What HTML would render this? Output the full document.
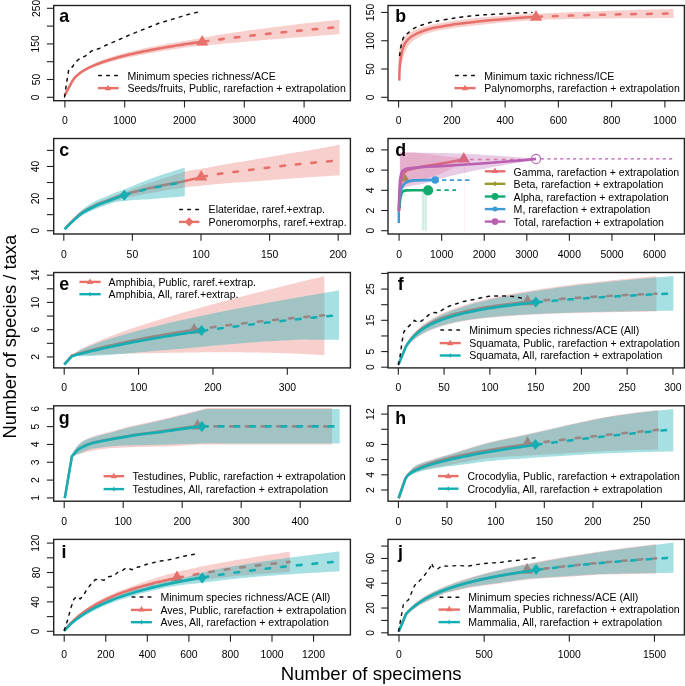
<!DOCTYPE html>
<html><head><meta charset="utf-8"><style>
html,body{margin:0;padding:0;background:#fff;}
svg{display:block;font-family:"Liberation Sans", sans-serif;}
svg{will-change:transform;}
</style></head><body>
<svg width="685" height="686" viewBox="0 0 685 686">
<rect width="685" height="686" fill="#fff"/>
<path d="M64.6,95.7 L72.2,80.7 L74.19,77.71 L76.19,75.4 L78.18,73.47 L80.18,71.8 L82.17,70.33 L84.16,68.99 L86.16,67.75 L88.15,66.61 L90.15,65.53 L92.14,64.53 L94.13,63.59 L96.13,62.69 L98.12,61.83 L100.12,61 L102.11,60.23 L104.1,59.48 L106.1,58.76 L108.09,58.06 L110.09,57.39 L112.08,56.75 L114.07,56.14 L116.07,55.53 L118.06,54.95 L120.06,54.38 L122.05,53.82 L124.04,53.28 L126.04,52.74 L128.03,52.21 L130.03,51.69 L132.02,51.19 L134.01,50.69 L136.01,50.2 L138,49.72 L140,49.27 L141.99,48.82 L143.99,48.38 L145.98,47.95 L147.97,47.52 L149.97,47.1 L151.96,46.7 L153.96,46.31 L155.95,45.92 L157.94,45.54 L159.94,45.17 L161.93,44.8 L163.93,44.44 L165.92,44.08 L167.91,43.72 L169.91,43.37 L171.9,43.02 L173.9,42.68 L175.89,42.34 L177.88,41.99 L179.88,41.65 L181.87,41.31 L183.87,40.97 L185.86,40.64 L187.85,40.31 L189.85,39.98 L191.84,39.66 L193.84,39.34 L195.83,39 L197.82,38.64 L199.82,38.27 L201.81,37.91 L203.81,37.54 L205.8,37.15 L207.79,36.77 L209.79,36.4 L211.78,36.02 L213.78,35.65 L215.77,35.3 L217.76,34.99 L219.76,34.68 L221.75,34.37 L223.75,34.06 L225.74,33.76 L227.73,33.46 L229.73,33.15 L231.72,32.86 L233.72,32.56 L235.71,32.27 L237.7,31.97 L239.7,31.68 L241.69,31.4 L243.69,31.13 L245.68,30.85 L247.67,30.58 L249.67,30.31 L251.66,30.04 L253.66,29.77 L255.65,29.51 L257.64,29.24 L259.64,28.98 L261.63,28.72 L263.63,28.46 L265.62,28.2 L267.61,27.94 L269.61,27.69 L271.6,27.43 L273.6,27.18 L275.59,26.93 L277.59,26.68 L279.58,26.43 L281.57,26.19 L283.57,25.95 L285.56,25.71 L287.56,25.47 L289.55,25.23 L291.54,24.99 L293.54,24.76 L295.53,24.53 L297.53,24.29 L299.52,24.06 L301.51,23.83 L303.51,23.6 L305.5,23.37 L307.5,23.14 L309.49,22.92 L311.48,22.7 L313.48,22.49 L315.47,22.28 L317.47,22.07 L319.46,21.86 L321.45,21.65 L323.45,21.45 L325.44,21.24 L327.44,21.04 L329.43,20.83 L331.42,20.63 L333.42,20.43 L335.41,20.23 L337.41,20.03 L339.4,19.83 L339.4,34.23 L337.41,34.37 L335.41,34.52 L333.42,34.66 L331.42,34.81 L329.43,34.96 L327.44,35.11 L325.44,35.26 L323.45,35.41 L321.45,35.57 L319.46,35.72 L317.47,35.87 L315.47,36.03 L313.48,36.19 L311.48,36.34 L309.49,36.5 L307.5,36.64 L305.5,36.79 L303.51,36.94 L301.51,37.09 L299.52,37.24 L297.53,37.39 L295.53,37.55 L293.54,37.7 L291.54,37.86 L289.55,38.01 L287.56,38.17 L285.56,38.33 L283.57,38.49 L281.57,38.65 L279.58,38.81 L277.59,38.97 L275.59,39.13 L273.6,39.29 L271.6,39.46 L269.61,39.62 L267.61,39.79 L265.62,39.95 L263.63,40.12 L261.63,40.29 L259.64,40.46 L257.64,40.64 L255.65,40.81 L253.66,40.99 L251.66,41.17 L249.67,41.35 L247.67,41.53 L245.68,41.71 L243.69,41.89 L241.69,42.08 L239.7,42.27 L237.7,42.45 L235.71,42.63 L233.72,42.81 L231.72,42.99 L229.73,43.18 L227.73,43.37 L225.74,43.56 L223.75,43.75 L221.75,43.95 L219.76,44.14 L217.76,44.34 L215.77,44.54 L213.78,44.72 L211.78,44.87 L209.79,45.02 L207.79,45.18 L205.8,45.34 L203.81,45.5 L201.81,45.67 L199.82,45.87 L197.82,46.07 L195.83,46.27 L193.84,46.51 L191.84,46.77 L189.85,47.03 L187.85,47.29 L185.86,47.56 L183.87,47.84 L181.87,48.11 L179.88,48.39 L177.88,48.68 L175.89,48.97 L173.9,49.26 L171.9,49.57 L169.91,49.89 L167.91,50.21 L165.92,50.53 L163.93,50.86 L161.93,51.19 L159.94,51.53 L157.94,51.87 L155.95,52.22 L153.96,52.57 L151.96,52.93 L149.97,53.3 L147.97,53.65 L145.98,54.02 L143.99,54.39 L141.99,54.76 L140,55.15 L138,55.54 L136.01,55.93 L134.01,56.32 L132.02,56.72 L130.03,57.14 L128.03,57.56 L126.04,57.99 L124.04,58.44 L122.05,58.9 L120.06,59.38 L118.06,59.87 L116.07,60.38 L114.07,60.9 L112.08,61.44 L110.09,61.99 L108.09,62.55 L106.1,63.13 L104.1,63.73 L102.11,64.36 L100.12,65.01 L98.12,65.68 L96.13,66.38 L94.13,67.12 L92.14,67.91 L90.15,68.74 L88.15,69.62 L86.16,70.57 L84.16,71.6 L82.17,72.74 L80.18,74.02 L78.18,75.44 L76.19,77.11 L74.19,79.16 L72.2,81.9 L64.6,95.7 Z" fill="rgba(232,112,106,0.33)" stroke="none"/>
<path d="M64.6,95.7 L72.2,81.3 L74.2,78.43 L76.2,76.24 L78.2,74.44 L80.21,72.89 L82.21,71.51 L84.21,70.27 L86.21,69.13 L88.21,68.08 L90.21,67.1 L92.22,66.19 L94.22,65.32 L96.22,64.5 L98.22,63.72 L100.22,62.97 L102.22,62.25 L104.22,61.56 L106.23,60.9 L108.23,60.27 L110.23,59.65 L112.23,59.05 L114.23,58.47 L116.23,57.91 L118.24,57.36 L120.24,56.83 L122.24,56.31 L124.24,55.81 L126.24,55.32 L128.24,54.84 L130.24,54.36 L132.25,53.9 L134.25,53.45 L136.25,53.01 L138.25,52.58 L140.25,52.15 L142.25,51.74 L144.26,51.33 L146.26,50.93 L148.26,50.53 L150.26,50.14 L152.26,49.76 L154.26,49.38 L156.26,49.01 L158.27,48.65 L160.27,48.29 L162.27,47.94 L164.27,47.59 L166.27,47.24 L168.27,46.9 L170.28,46.57 L172.28,46.24 L174.28,45.91 L176.28,45.59 L178.28,45.27 L180.28,44.96 L182.28,44.65 L184.29,44.34 L186.29,44.04 L188.29,43.74 L190.29,43.44 L192.29,43.15 L194.29,42.86 L196.3,42.57 L198.3,42.29 L200.3,42 L202.3,41.73" fill="none" stroke="#E8706A" stroke-width="2.6" stroke-linecap="butt" stroke-linejoin="round"/>
<path d="M202.3,41.73 L204.29,41.45 L206.27,41.18 L208.26,40.91 L210.25,40.65 L212.23,40.39 L214.22,40.12 L216.21,39.87 L218.2,39.61 L220.18,39.36 L222.17,39.1 L224.16,38.86 L226.14,38.61 L228.13,38.36 L230.12,38.12 L232.1,37.88 L234.09,37.64 L236.08,37.4 L238.07,37.17 L240.05,36.93 L242.04,36.7 L244.03,36.47 L246.01,36.24 L248,36.02 L249.99,35.79 L251.97,35.57 L253.96,35.35 L255.95,35.13 L257.93,34.91 L259.92,34.69 L261.91,34.48 L263.9,34.26 L265.88,34.05 L267.87,33.84 L269.86,33.63 L271.84,33.42 L273.83,33.21 L275.82,33.01 L277.8,32.8 L279.79,32.6 L281.78,32.4 L283.77,32.2 L285.75,32 L287.74,31.8 L289.73,31.6 L291.71,31.41 L293.7,31.21 L295.69,31.02 L297.67,30.83 L299.66,30.64 L301.65,30.45 L303.63,30.26 L305.62,30.07 L307.61,29.88 L309.6,29.7 L311.58,29.51 L313.57,29.33 L315.56,29.15 L317.54,28.96 L319.53,28.78 L321.52,28.6 L323.5,28.43 L325.49,28.25 L327.48,28.07 L329.47,27.89 L331.45,27.72 L333.44,27.54 L335.43,27.37 L337.41,27.2 L339.4,27.03" fill="none" stroke="#E8706A" stroke-width="2.6" stroke-dasharray="4.6 11.1" stroke-dashoffset="-1.3" stroke-linecap="round" stroke-linejoin="round"/>
<polygon points="202.2,34.96 208.3,45.53 196.1,45.53" fill="#E8706A"/>
<line x1="98.7" y1="75.6" x2="117.6" y2="75.6" stroke="#111" stroke-width="1.5" stroke-dasharray="2.7 5.3" stroke-linecap="round"/>
<line x1="97.9" y1="88.1" x2="118.6" y2="88.1" stroke="#E8706A" stroke-width="2.4"/>
<polygon points="108.1,84.67 111.3,90.22 104.9,90.22" fill="#E8706A"/>
<text x="127.4" y="80.1" font-size="10.55" text-anchor="start" font-weight="normal" fill="#000">Minimum species richness/ACE</text>
<text x="127.4" y="92.1" font-size="10.55" text-anchor="start" font-weight="normal" fill="#000">Seeds/fruits, Public, rarefaction + extrapolation</text>
<path d="M64.6,96.9 L65.9,87.3 L67.3,78.5 L68.1,74.2 L68.6,70.2 L69.9,68 L71.6,67.6 L72.9,66.3 L74.3,63.6 L76,61.9 L78.2,59.7 L80.8,58.4 L83,57.1 L85.6,55.8 L88.3,54 L90.9,51.4 L94.4,49.6 L98.8,48.8 L101.4,47.4 L105.8,45.3 L111,43.1 L116.3,40.9 L129.6,34.9 L144.2,29.1 L158.8,23.2 L173.4,18.9 L188,14.5 L201.9,11.1" fill="none" stroke="#111" stroke-width="1.5" stroke-dasharray="2.7 5.3" stroke-linecap="round" stroke-linejoin="round"/>
<line x1="64.9" y1="100.7" x2="64.9" y2="107.5" stroke="#222" stroke-width="1.1"/>
<text x="64.9" y="124.2" font-size="10.4" text-anchor="middle" font-weight="normal" fill="#000">0</text>
<line x1="124.7" y1="100.7" x2="124.7" y2="107.5" stroke="#222" stroke-width="1.1"/>
<text x="124.7" y="124.2" font-size="10.4" text-anchor="middle" font-weight="normal" fill="#000">1000</text>
<line x1="184.5" y1="100.7" x2="184.5" y2="107.5" stroke="#222" stroke-width="1.1"/>
<text x="184.5" y="124.2" font-size="10.4" text-anchor="middle" font-weight="normal" fill="#000">2000</text>
<line x1="244.3" y1="100.7" x2="244.3" y2="107.5" stroke="#222" stroke-width="1.1"/>
<text x="244.3" y="124.2" font-size="10.4" text-anchor="middle" font-weight="normal" fill="#000">3000</text>
<line x1="304.1" y1="100.7" x2="304.1" y2="107.5" stroke="#222" stroke-width="1.1"/>
<text x="304.1" y="124.2" font-size="10.4" text-anchor="middle" font-weight="normal" fill="#000">4000</text>
<line x1="46.9" y1="97.3" x2="53.7" y2="97.3" stroke="#222" stroke-width="1.1"/>
<text x="39.5" y="97.3" font-size="10.4" text-anchor="middle" font-weight="normal" fill="#000" transform="rotate(-90 39.5 97.3)">0</text>
<line x1="46.9" y1="79.5" x2="53.7" y2="79.5" stroke="#222" stroke-width="1.1"/>
<text x="39.5" y="79.5" font-size="10.4" text-anchor="middle" font-weight="normal" fill="#000" transform="rotate(-90 39.5 79.5)">50</text>
<line x1="46.9" y1="61.7" x2="53.7" y2="61.7" stroke="#222" stroke-width="1.1"/>
<line x1="46.9" y1="43.9" x2="53.7" y2="43.9" stroke="#222" stroke-width="1.1"/>
<text x="39.5" y="43.9" font-size="10.4" text-anchor="middle" font-weight="normal" fill="#000" transform="rotate(-90 39.5 43.9)">150</text>
<line x1="46.9" y1="26.1" x2="53.7" y2="26.1" stroke="#222" stroke-width="1.1"/>
<line x1="46.9" y1="8.3" x2="53.7" y2="8.3" stroke="#222" stroke-width="1.1"/>
<text x="39.5" y="8.3" font-size="10.4" text-anchor="middle" font-weight="normal" fill="#000" transform="rotate(-90 39.5 8.3)">250</text>
<rect x="53.7" y="5.5" width="296.7" height="95.2" fill="none" stroke="#222" stroke-width="1.4"/>
<text x="64.1" y="21.9" font-size="17.8" text-anchor="middle" font-weight="bold" fill="#000">a</text>
<path d="M399.25,80.6 L399.2,79.6 L399.14,78.59 L399.09,77.59 L399.03,76.59 L398.98,75.58 L398.93,74.58 L398.87,73.57 L398.82,72.56 L398.74,71.55 L398.64,70.54 L398.59,69.53 L398.57,68.53 L398.55,67.52 L398.53,66.5 L398.52,65.48 L398.49,64.45 L398.45,63.42 L398.41,62.39 L398.37,61.36 L398.34,60.33 L398.35,59.31 L398.4,58.29 L398.46,57.27 L398.51,56.25 L398.57,55.23 L398.63,54.17 L398.7,53.11 L398.78,52.06 L398.88,50.99 L399.07,49.93 L399.28,48.84 L399.48,47.75 L399.73,46.68 L400.04,45.62 L400.35,44.56 L400.68,43.48 L401.05,42.32 L401.45,41.17 L402.1,40.15 L402.85,39.17 L403.65,38.14 L404.37,37.24 L405.11,36.4 L405.92,35.62 L406.83,34.75 L407.75,33.94 L408.67,33.21 L409.72,32.66 L410.77,32.11 L411.76,31.61 L412.65,31.15 L413.57,30.69 L414.56,30.19 L415.54,29.69 L416.55,29.27 L417.59,28.9 L418.63,28.53 L419.59,28.19 L420.55,27.86 L421.55,27.51 L422.55,27.16 L423.56,26.85 L424.57,26.56 L425.59,26.26 L426.56,25.98 L427.55,25.69 L428.57,25.39 L429.59,25.1 L430.63,24.86 L431.68,24.66 L432.72,24.46 L433.72,24.27 L434.71,24.08 L435.71,23.89 L436.71,23.71 L437.71,23.54 L438.71,23.37 L439.71,23.2 L440.7,23.04 L441.7,22.87 L442.7,22.7 L443.69,22.53 L444.69,22.36 L445.68,22.19 L446.67,22.02 L447.65,21.85 L448.64,21.68 L449.63,21.51 L450.62,21.34 L451.6,21.17 L452.59,21 L453.59,20.83 L454.61,20.66 L455.62,20.48 L456.65,20.34 L457.67,20.21 L458.69,20.09 L459.69,19.96 L460.68,19.84 L461.68,19.71 L462.67,19.59 L463.66,19.46 L464.66,19.34 L465.65,19.22 L466.65,19.09 L467.64,18.97 L468.65,18.84 L469.65,18.72 L470.65,18.62 L471.66,18.52 L472.66,18.43 L473.65,18.33 L474.65,18.23 L475.65,18.14 L476.65,18.04 L477.64,17.94 L478.64,17.85 L479.64,17.75 L480.63,17.66 L481.63,17.56 L482.63,17.46 L483.64,17.36 L484.65,17.27 L485.65,17.18 L486.66,17.1 L487.66,17.02 L488.66,16.93 L489.66,16.85 L490.66,16.77 L491.66,16.68 L492.65,16.6 L493.65,16.52 L494.65,16.43 L495.65,16.35 L496.65,16.27 L497.65,16.18 L498.66,16.1 L499.67,16.02 L500.68,15.94 L501.68,15.87 L502.69,15.8 L503.69,15.73 L504.69,15.65 L505.69,15.58 L506.69,15.51 L507.69,15.44 L508.69,15.37 L509.68,15.3 L510.68,15.22 L511.68,15.15 L512.68,15.08 L513.68,15.01 L514.69,14.94 L515.69,14.86 L516.7,14.8 L517.7,14.74 L518.71,14.68 L519.71,14.62 L520.71,14.57 L521.71,14.51 L522.71,14.45 L523.71,14.4 L524.71,14.34 L525.71,14.28 L526.71,14.22 L527.71,14.17 L528.71,14.11 L529.71,14.05 L530.71,14 L531.71,13.94 L532.71,13.88 L533.73,13.82 L534.74,13.77 L535.76,13.71 L536.78,13.66 L537.8,13.62 L538.81,13.57 L539.81,13.53 L540.82,13.48 L541.82,13.44 L542.82,13.4 L543.82,13.35 L544.82,13.31 L545.82,13.26 L546.82,13.22 L547.82,13.18 L548.82,13.13 L549.82,13.09 L550.82,13.04 L551.82,13 L552.82,12.95 L553.82,12.91 L554.82,12.87 L555.83,12.82 L556.83,12.78 L557.83,12.73 L558.83,12.69 L559.83,12.65 L560.83,12.6 L561.83,12.56 L562.83,12.51 L563.83,12.47 L564.83,12.42 L565.83,12.38 L566.83,12.34 L567.84,12.29 L568.85,12.25 L569.85,12.2 L570.86,12.17 L571.87,12.13 L572.87,12.1 L573.87,12.06 L574.88,12.03 L575.88,11.99 L576.88,11.96 L577.88,11.92 L578.88,11.89 L579.88,11.85 L580.88,11.82 L581.88,11.78 L582.88,11.75 L583.88,11.71 L584.89,11.68 L585.89,11.64 L586.89,11.61 L587.89,11.57 L588.89,11.54 L589.89,11.5 L590.89,11.47 L591.89,11.43 L592.89,11.4 L593.9,11.36 L594.9,11.33 L595.9,11.29 L596.9,11.26 L597.9,11.22 L598.9,11.19 L599.9,11.15 L600.9,11.12 L601.9,11.08 L602.9,11.05 L603.91,11.01 L604.91,10.98 L605.91,10.94 L606.91,10.91 L607.91,10.87 L608.92,10.84 L609.92,10.8 L610.93,10.77 L611.93,10.73 L612.93,10.7 L613.94,10.67 L614.94,10.63 L615.94,10.6 L616.94,10.57 L617.94,10.53 L618.94,10.5 L619.94,10.47 L620.94,10.43 L621.94,10.4 L622.95,10.37 L623.95,10.33 L624.95,10.3 L625.95,10.27 L626.95,10.23 L627.95,10.2 L628.95,10.17 L629.95,10.13 L630.96,10.1 L631.96,10.07 L632.96,10.03 L633.96,10 L634.96,9.97 L635.96,9.93 L636.96,9.9 L637.97,9.87 L638.97,9.83 L639.98,9.8 L640.98,9.78 L641.99,9.75 L642.99,9.73 L643.99,9.7 L644.99,9.68 L646,9.66 L647,9.63 L648,9.61 L649,9.58 L650,9.56 L651,9.54 L652,9.51 L653,9.49 L654.01,9.47 L655.01,9.44 L656.01,9.42 L657.01,9.39 L658.01,9.37 L659.01,9.35 L660.01,9.32 L661.02,9.3 L662.02,9.27 L663.02,9.25 L664.02,9.23 L665.02,9.2 L666.02,9.18 L667.02,9.16 L668.03,9.13 L669.03,9.11 L670.03,9.08 L671.03,9.06 L672.03,9.04 L673.03,9.01 L673.53,9 L673.67,18 L673.17,18 L672.16,18.01 L671.16,18.01 L670.16,18.02 L669.16,18.03 L668.16,18.03 L667.16,18.04 L666.15,18.04 L665.15,18.05 L664.15,18.06 L663.15,18.06 L662.15,18.07 L661.15,18.07 L660.14,18.08 L659.14,18.09 L658.14,18.09 L657.14,18.1 L656.14,18.1 L655.14,18.11 L654.14,18.12 L653.13,18.12 L652.13,18.13 L651.13,18.13 L650.13,18.14 L649.13,18.15 L648.13,18.15 L647.12,18.16 L646.12,18.16 L645.12,18.17 L644.12,18.18 L643.12,18.18 L642.12,18.19 L641.12,18.19 L640.12,18.2 L639.12,18.21 L638.13,18.21 L637.13,18.22 L636.13,18.23 L635.13,18.23 L634.12,18.24 L633.12,18.25 L632.12,18.25 L631.12,18.26 L630.12,18.27 L629.12,18.27 L628.11,18.28 L627.11,18.29 L626.11,18.29 L625.11,18.3 L624.11,18.31 L623.11,18.31 L622.1,18.32 L621.1,18.33 L620.1,18.33 L619.1,18.34 L618.1,18.35 L617.09,18.35 L616.09,18.36 L615.09,18.37 L614.09,18.37 L613.09,18.38 L612.09,18.39 L611.09,18.39 L610.09,18.4 L609.09,18.41 L608.1,18.43 L607.1,18.44 L606.1,18.46 L605.09,18.47 L604.09,18.49 L603.09,18.5 L602.09,18.52 L601.09,18.53 L600.09,18.55 L599.09,18.56 L598.08,18.58 L597.08,18.59 L596.08,18.61 L595.08,18.62 L594.08,18.64 L593.08,18.65 L592.07,18.67 L591.07,18.68 L590.07,18.7 L589.07,18.71 L588.07,18.73 L587.07,18.74 L586.06,18.76 L585.06,18.77 L584.06,18.79 L583.06,18.8 L582.06,18.82 L581.06,18.83 L580.06,18.85 L579.05,18.86 L578.05,18.88 L577.05,18.89 L576.05,18.91 L575.05,18.92 L574.05,18.94 L573.04,18.95 L572.05,18.97 L571.05,18.98 L570.06,19 L569.06,19.03 L568.07,19.05 L567.07,19.08 L566.07,19.11 L565.07,19.13 L564.07,19.16 L563.07,19.18 L562.06,19.21 L561.06,19.24 L560.06,19.26 L559.06,19.29 L558.06,19.32 L557.06,19.34 L556.06,19.37 L555.06,19.4 L554.05,19.42 L553.05,19.45 L552.05,19.48 L551.05,19.5 L550.05,19.53 L549.05,19.56 L548.05,19.58 L547.05,19.61 L546.04,19.64 L545.04,19.66 L544.04,19.69 L543.04,19.71 L542.04,19.74 L541.04,19.77 L540.04,19.79 L539.04,19.82 L538.05,19.85 L537.07,19.87 L536.08,19.9 L535.1,19.98 L534.12,20.06 L533.13,20.13 L532.14,20.21 L531.14,20.29 L530.14,20.36 L529.14,20.44 L528.14,20.52 L527.14,20.6 L526.14,20.68 L525.14,20.75 L524.15,20.83 L523.15,20.91 L522.15,20.99 L521.15,21.06 L520.15,21.14 L519.16,21.22 L518.16,21.3 L517.17,21.37 L516.18,21.46 L515.19,21.54 L514.19,21.62 L513.2,21.71 L512.2,21.79 L511.2,21.87 L510.2,21.96 L509.2,22.04 L508.21,22.12 L507.21,22.21 L506.21,22.29 L505.21,22.37 L504.21,22.46 L503.22,22.54 L502.23,22.63 L501.24,22.71 L500.25,22.79 L499.26,22.89 L498.27,23 L497.28,23.1 L496.29,23.2 L495.29,23.3 L494.3,23.41 L493.3,23.51 L492.3,23.61 L491.31,23.72 L490.31,23.82 L489.31,23.92 L488.32,24.03 L487.33,24.13 L486.34,24.23 L485.35,24.33 L484.37,24.45 L483.38,24.56 L482.39,24.68 L481.4,24.79 L480.4,24.91 L479.41,25.03 L478.41,25.14 L477.42,25.26 L476.42,25.38 L475.43,25.49 L474.43,25.61 L473.44,25.72 L472.45,25.84 L471.46,25.95 L470.47,26.07 L469.48,26.18 L468.49,26.29 L467.5,26.4 L466.51,26.51 L465.51,26.62 L464.52,26.73 L463.52,26.84 L462.53,26.95 L461.53,27.06 L460.54,27.17 L459.54,27.27 L458.57,27.38 L457.61,27.49 L456.64,27.6 L455.68,27.76 L454.72,27.91 L453.75,28.06 L452.76,28.21 L451.77,28.37 L450.78,28.52 L449.79,28.68 L448.8,28.83 L447.81,28.99 L446.82,29.14 L445.84,29.3 L444.85,29.45 L443.87,29.61 L442.9,29.78 L441.92,29.97 L440.95,30.15 L439.97,30.34 L439,30.52 L438.03,30.71 L437.06,30.91 L436.1,31.12 L435.13,31.32 L434.16,31.53 L433.24,31.72 L432.32,31.91 L431.41,32.14 L430.52,32.43 L429.63,32.71 L428.69,33 L427.75,33.3 L426.85,33.59 L425.95,33.88 L425.07,34.23 L424.2,34.61 L423.34,35 L422.43,35.4 L421.53,35.79 L420.7,36.16 L419.88,36.53 L419.08,36.94 L418.32,37.43 L417.55,37.91 L416.73,38.42 L415.87,38.95 L415.12,39.42 L414.42,39.86 L413.71,40.28 L413.12,40.86 L412.56,41.4 L411.99,41.87 L411.31,42.44 L410.7,43.06 L410.14,43.71 L409.68,44.23 L409.16,44.8 L408.69,45.43 L408.3,46.11 L407.87,46.79 L407.4,47.55 L406.91,48.32 L406.42,49.1 L406.04,49.92 L405.72,50.77 L405.41,51.62 L405.09,52.49 L404.68,53.37 L404.34,54.26 L404.09,55.18 L403.83,56.1 L403.57,57.06 L403.31,58.02 L403.05,58.98 L402.8,59.94 L402.56,60.9 L402.27,61.86 L401.99,62.82 L401.7,63.77 L401.41,64.73 L401.22,65.7 L401.08,66.68 L400.95,67.66 L400.82,68.65 L400.69,69.65 L400.52,70.64 L400.3,71.63 L400.15,72.62 L400.04,73.61 L399.92,74.61 L399.81,75.61 L399.7,76.6 L399.59,77.6 L399.47,78.6 L399.36,79.6 L399.25,80.6 Z" fill="rgba(232,112,106,0.33)" stroke="none"/>
<path d="M399.25,80.6 C399.29,79.17 399.39,74.6 399.5,72 C399.61,69.4 399.72,67.1 399.9,65 C400.08,62.9 400.32,61.37 400.6,59.4 C400.88,57.43 401.22,55.05 401.6,53.2 C401.98,51.35 402.3,50 402.9,48.3 C403.5,46.6 404.37,44.43 405.2,43 C406.03,41.57 406.92,40.73 407.9,39.7 C408.88,38.67 409.47,37.9 411.1,36.8 C412.73,35.7 415.5,34.15 417.7,33.1 C419.9,32.05 422.1,31.27 424.3,30.5 C426.5,29.73 428.72,29.05 430.9,28.5 C433.08,27.95 435.38,27.58 437.4,27.2 C439.42,26.82 439.83,26.73 443,26.2 C446.17,25.67 451.9,24.63 456.4,24 C460.9,23.37 465.23,22.93 470,22.4 C474.77,21.87 480,21.3 485,20.8 C490,20.3 494.72,19.85 500,19.4 C505.28,18.95 510.7,18.53 516.7,18.1 C522.7,17.67 532.78,17.02 536,16.8" fill="none" stroke="#E8706A" stroke-width="2.5" stroke-linecap="butt" stroke-linejoin="round"/>
<path d="M536,16.8 C541.67,16.6 557.67,15.97 570,15.6 C582.33,15.23 598.33,14.87 610,14.6 C621.67,14.33 629.4,14.18 640,14 C650.6,13.82 668,13.58 673.6,13.5" fill="none" stroke="#E8706A" stroke-width="2.5" stroke-dasharray="4.7 11" stroke-dashoffset="-1.25" stroke-linecap="round" stroke-linejoin="round"/>
<polygon points="536,10.06 542.1,20.63 529.9,20.63" fill="#E8706A"/>
<line x1="455.6" y1="75.6" x2="474.5" y2="75.6" stroke="#111" stroke-width="1.5" stroke-dasharray="2.7 5.3" stroke-linecap="round"/>
<line x1="454.5" y1="88.1" x2="475.6" y2="88.1" stroke="#E8706A" stroke-width="2.4"/>
<polygon points="465,84.67 468.2,90.22 461.8,90.22" fill="#E8706A"/>
<text x="484.3" y="80.1" font-size="10.55" text-anchor="start" font-weight="normal" fill="#000">Minimum taxic richness/ICE</text>
<text x="484.3" y="92.1" font-size="10.55" text-anchor="start" font-weight="normal" fill="#000">Palynomorphs, rarefaction + extrapolation</text>
<path d="M399.6,55.5 C399.72,54.67 400.07,52.03 400.3,50.5 C400.53,48.97 400.67,47.97 401,46.3 C401.33,44.63 401.7,42.25 402.3,40.5 C402.9,38.75 403.67,37.03 404.6,35.8 C405.53,34.57 406.37,34.32 407.9,33.1 C409.43,31.88 411.62,29.8 413.8,28.5 C415.98,27.2 418.6,26.22 421,25.3 C423.4,24.38 425.68,23.67 428.2,23 C430.72,22.33 432.37,22.02 436.1,21.3 C439.83,20.58 446.25,19.43 450.6,18.7 C454.95,17.97 457.73,17.47 462.2,16.9 C466.67,16.33 472.2,15.73 477.4,15.3 C482.6,14.87 486.85,14.67 493.4,14.3 C499.95,13.93 510.28,13.42 516.7,13.1 C523.12,12.78 529.37,12.52 531.9,12.4" fill="none" stroke="#111" stroke-width="1.5" stroke-dasharray="2.7 5.3" stroke-linecap="round" stroke-linejoin="round"/>
<line x1="398.6" y1="100.7" x2="398.6" y2="107.5" stroke="#222" stroke-width="1.1"/>
<text x="398.6" y="124.2" font-size="10.4" text-anchor="middle" font-weight="normal" fill="#000">0</text>
<line x1="451.86" y1="100.7" x2="451.86" y2="107.5" stroke="#222" stroke-width="1.1"/>
<text x="451.86" y="124.2" font-size="10.4" text-anchor="middle" font-weight="normal" fill="#000">200</text>
<line x1="505.12" y1="100.7" x2="505.12" y2="107.5" stroke="#222" stroke-width="1.1"/>
<text x="505.12" y="124.2" font-size="10.4" text-anchor="middle" font-weight="normal" fill="#000">400</text>
<line x1="558.38" y1="100.7" x2="558.38" y2="107.5" stroke="#222" stroke-width="1.1"/>
<text x="558.38" y="124.2" font-size="10.4" text-anchor="middle" font-weight="normal" fill="#000">600</text>
<line x1="611.64" y1="100.7" x2="611.64" y2="107.5" stroke="#222" stroke-width="1.1"/>
<text x="611.64" y="124.2" font-size="10.4" text-anchor="middle" font-weight="normal" fill="#000">800</text>
<line x1="664.9" y1="100.7" x2="664.9" y2="107.5" stroke="#222" stroke-width="1.1"/>
<text x="664.9" y="124.2" font-size="10.4" text-anchor="middle" font-weight="normal" fill="#000">1000</text>
<line x1="381.2" y1="97.3" x2="388" y2="97.3" stroke="#222" stroke-width="1.1"/>
<text x="373.8" y="97.3" font-size="10.4" text-anchor="middle" font-weight="normal" fill="#000" transform="rotate(-90 373.8 97.3)">0</text>
<line x1="381.2" y1="69.03" x2="388" y2="69.03" stroke="#222" stroke-width="1.1"/>
<text x="373.8" y="69.03" font-size="10.4" text-anchor="middle" font-weight="normal" fill="#000" transform="rotate(-90 373.8 69.03)">50</text>
<line x1="381.2" y1="40.75" x2="388" y2="40.75" stroke="#222" stroke-width="1.1"/>
<text x="373.8" y="40.75" font-size="10.4" text-anchor="middle" font-weight="normal" fill="#000" transform="rotate(-90 373.8 40.75)">100</text>
<line x1="381.2" y1="12.47" x2="388" y2="12.47" stroke="#222" stroke-width="1.1"/>
<text x="373.8" y="12.47" font-size="10.4" text-anchor="middle" font-weight="normal" fill="#000" transform="rotate(-90 373.8 12.47)">150</text>
<rect x="388" y="5.5" width="296.4" height="95.2" fill="none" stroke="#222" stroke-width="1.4"/>
<text x="400.6" y="21.9" font-size="17.8" text-anchor="middle" font-weight="bold" fill="#000">b</text>
<path d="M64.2,229.4 C65.53,227.88 69.17,223.37 72.2,220.3 C75.23,217.23 78.6,213.8 82.4,211 C86.2,208.2 90.95,205.53 95,203.5 C99.05,201.47 102.8,200.38 106.7,198.8 C110.6,197.22 115.47,195.13 118.4,194 C121.33,192.87 119.03,193.87 124.3,192 C129.57,190.13 139.88,186.18 150,182.8 C160.12,179.42 176.47,174.03 185,171.7 C193.53,169.37 193.7,170.17 201.2,168.8 C208.7,167.43 220.2,165.22 230,163.5 C239.8,161.78 248.33,160.45 260,158.5 C271.67,156.55 286.72,154.1 300,151.8 C313.28,149.5 333.08,145.88 339.7,144.7 L339.7,175.3 C333.08,175.75 313.28,177.07 300,178 C286.72,178.93 271.67,180.07 260,180.9 C248.33,181.73 239.8,182.2 230,183 C220.2,183.8 208.7,184.97 201.2,185.7 C193.7,186.43 193.53,186.18 185,187.4 C176.47,188.62 160.12,191.18 150,193 C139.88,194.82 129.57,197.13 124.3,198.3 C119.03,199.47 121.33,199.13 118.4,200 C115.47,200.87 110.6,202.17 106.7,203.5 C102.8,204.83 99.05,206.22 95,208 C90.95,209.78 86.2,211.77 82.4,214.2 C78.6,216.63 75.23,220.07 72.2,222.6 C69.17,225.13 65.53,228.27 64.2,229.4 Z" fill="rgba(232,112,106,0.33)" stroke="none"/>
<path d="M64.6,229.2 C65.87,227.87 69.23,224.02 72.2,221.2 C75.17,218.38 78.6,214.92 82.4,212.3 C86.2,209.68 90.95,207.4 95,205.5 C99.05,203.6 102.8,202.4 106.7,200.9 C110.6,199.4 115.47,197.55 118.4,196.5 C121.33,195.45 119.03,196.02 124.3,194.6 C129.57,193.18 139.88,190.28 150,188 C160.12,185.72 176.47,182.67 185,180.9 C193.53,179.13 198.5,177.98 201.2,177.4" fill="none" stroke="#E8706A" stroke-width="2.6" stroke-linecap="butt" stroke-linejoin="round"/>
<path d="M201.2,177 C204,176.52 211.53,175.07 218,174.1 C224.47,173.13 229.67,172.52 240,171.2 C250.33,169.88 268.33,167.57 280,166.2 C291.67,164.83 300.17,163.97 310,163 C319.83,162.03 334.17,160.83 339,160.4" fill="none" stroke="#E8706A" stroke-width="2.6" stroke-dasharray="4.6 11.1" stroke-dashoffset="-1.3" stroke-linecap="round" stroke-linejoin="round"/>
<polygon points="201.2,169.96 207.3,180.53 195.1,180.53" fill="#E8706A"/>
<path d="M64.2,229.4 C65.53,227.87 69.17,223.5 72.2,220.2 C75.23,216.9 78.6,212.77 82.4,209.6 C86.2,206.43 90.95,203.43 95,201.2 C99.05,198.97 102.8,197.8 106.7,196.2 C110.6,194.6 113.68,193.48 118.4,191.6 C123.12,189.72 129.73,187 135,184.9 C140.27,182.8 144.67,180.97 150,179 C155.33,177.03 161.2,175.03 167,173.1 C172.8,171.17 181.83,168.35 184.8,167.4 L184.8,196.3 C181.83,196.55 172.8,197.32 167,197.8 C161.2,198.28 155.33,198.85 150,199.2 C144.67,199.55 140.27,199.5 135,199.9 C129.73,200.3 123.12,200.75 118.4,201.6 C113.68,202.45 110.6,203.73 106.7,205 C102.8,206.27 99.05,207.5 95,209.2 C90.95,210.9 86.2,212.87 82.4,215.2 C78.6,217.53 75.23,220.83 72.2,223.2 C69.17,225.57 65.53,228.37 64.2,229.4 Z" fill="rgba(20,174,179,0.38)" stroke="none"/>
<path d="M64.6,229.2 C65.87,227.97 69.23,224.5 72.2,221.8 C75.17,219.1 78.6,215.6 82.4,213 C86.2,210.4 90.95,208.1 95,206.2 C99.05,204.3 102.8,203.1 106.7,201.6 C110.6,200.1 115.47,198.25 118.4,197.2 C121.33,196.15 123.32,195.62 124.3,195.3" fill="none" stroke="#14AEB3" stroke-width="2.6" stroke-linecap="butt" stroke-linejoin="round"/>
<path d="M124.3,195.3 C125.45,194.93 126.92,194.23 131.2,193.1 C135.48,191.97 142.1,190.18 150,188.5 C157.9,186.82 173.83,183.92 178.6,183" fill="none" stroke="#14AEB3" stroke-width="2.6" stroke-dasharray="4.6 11.1" stroke-dashoffset="-1.3" stroke-linecap="round" stroke-linejoin="round"/>
<polygon points="124.3,189.8 128.8,195.3 124.3,200.8 119.8,195.3" fill="#14AEB3"/>
<line x1="179.75" y1="209.5" x2="198.65" y2="209.5" stroke="#111" stroke-width="1.5" stroke-dasharray="2.7 5.3" stroke-linecap="round"/>
<line x1="179" y1="221.9" x2="199.4" y2="221.9" stroke="#E8706A" stroke-width="2.4"/>
<polygon points="189.2,217.2 193.5,221.9 189.2,226.6 184.9,221.9" fill="#E8706A"/>
<text x="208.6" y="213.2" font-size="10.55" text-anchor="start" font-weight="normal" fill="#000">Elateridae, raref.+extrap.</text>
<text x="208.6" y="225.6" font-size="10.55" text-anchor="start" font-weight="normal" fill="#000">Poneromorphs, raref.+extrap.</text>
<line x1="63.8" y1="234" x2="63.8" y2="240.8" stroke="#222" stroke-width="1.1"/>
<text x="63.8" y="257.5" font-size="10.4" text-anchor="middle" font-weight="normal" fill="#000">0</text>
<line x1="132.4" y1="234" x2="132.4" y2="240.8" stroke="#222" stroke-width="1.1"/>
<text x="132.4" y="257.5" font-size="10.4" text-anchor="middle" font-weight="normal" fill="#000">50</text>
<line x1="201" y1="234" x2="201" y2="240.8" stroke="#222" stroke-width="1.1"/>
<text x="201" y="257.5" font-size="10.4" text-anchor="middle" font-weight="normal" fill="#000">100</text>
<line x1="269.6" y1="234" x2="269.6" y2="240.8" stroke="#222" stroke-width="1.1"/>
<text x="269.6" y="257.5" font-size="10.4" text-anchor="middle" font-weight="normal" fill="#000">150</text>
<line x1="338.2" y1="234" x2="338.2" y2="240.8" stroke="#222" stroke-width="1.1"/>
<text x="338.2" y="257.5" font-size="10.4" text-anchor="middle" font-weight="normal" fill="#000">200</text>
<line x1="46.9" y1="230.7" x2="53.7" y2="230.7" stroke="#222" stroke-width="1.1"/>
<text x="39.5" y="230.7" font-size="10.4" text-anchor="middle" font-weight="normal" fill="#000" transform="rotate(-90 39.5 230.7)">0</text>
<line x1="46.9" y1="214.64" x2="53.7" y2="214.64" stroke="#222" stroke-width="1.1"/>
<line x1="46.9" y1="198.58" x2="53.7" y2="198.58" stroke="#222" stroke-width="1.1"/>
<text x="39.5" y="198.58" font-size="10.4" text-anchor="middle" font-weight="normal" fill="#000" transform="rotate(-90 39.5 198.58)">20</text>
<line x1="46.9" y1="182.52" x2="53.7" y2="182.52" stroke="#222" stroke-width="1.1"/>
<line x1="46.9" y1="166.46" x2="53.7" y2="166.46" stroke="#222" stroke-width="1.1"/>
<text x="39.5" y="166.46" font-size="10.4" text-anchor="middle" font-weight="normal" fill="#000" transform="rotate(-90 39.5 166.46)">40</text>
<line x1="46.9" y1="150.4" x2="53.7" y2="150.4" stroke="#222" stroke-width="1.1"/>
<rect x="53.7" y="138.5" width="296.7" height="95.5" fill="none" stroke="#222" stroke-width="1.4"/>
<text x="64.1" y="156.3" font-size="17.8" text-anchor="middle" font-weight="bold" fill="#000">c</text>
<path d="M400.2,152.6 C403.5,152.65 412.37,152.23 420,152.9 C427.63,153.57 438.63,155.75 446,156.6 C453.37,157.45 461.17,157.77 464.2,158 L464.2,160 C461.17,161.9 453.37,167.98 446,171.4 C438.63,174.82 427.17,178.23 420,180.5 C412.83,182.77 406.3,184.08 403,185 C399.7,185.92 400.67,185.83 400.2,186 Z" fill="rgba(245,100,118,0.27)" stroke="none"/>
<rect x="421.6" y="190" width="5.6" height="40.6" fill="rgba(20,170,110,0.13)"/>
<rect x="422.4" y="190" width="1.3" height="40.6" fill="rgba(20,170,110,0.10)"/>
<rect x="425.0" y="190" width="1.3" height="40.6" fill="rgba(20,170,110,0.10)"/>
<line x1="464.5" y1="163" x2="464.5" y2="233.5" stroke="rgba(232,107,110,0.13)" stroke-width="0.8"/>
<line x1="536" y1="164" x2="536" y2="233.5" stroke="rgba(186,96,176,0.13)" stroke-width="0.8"/>
<path d="M399.2,211 C399.25,209.17 399.33,203.5 399.5,200 C399.67,196.5 399.92,193.17 400.2,190 C400.48,186.83 400.8,183.33 401.2,181 C401.6,178.67 402.05,177.42 402.6,176 C403.15,174.58 403.77,173.45 404.5,172.5 C405.23,171.55 405.75,170.9 407,170.3 C408.25,169.7 409.17,169.57 412,168.9 C414.83,168.23 419.33,167.13 424,166.3 C428.67,165.47 433.33,165.05 440,163.9 C446.67,162.75 460,160.15 464,159.4" fill="none" stroke="#E86B6E" stroke-width="2.6" stroke-linecap="butt" stroke-linejoin="round"/>
<path d="M470,159.6 L531,159.6" fill="none" stroke="rgba(228,100,135,0.85)" stroke-width="1.5" stroke-dasharray="3.6 4.4" stroke-linecap="butt" stroke-linejoin="round"/>
<polygon points="463.8,151.96 469.9,162.53 457.7,162.53" fill="#E86B6E"/>
<polygon points="405.4,173.93 409.7,181.38 401.1,181.38" fill="#9A9A2C"/>
<path d="M399.8,152.4 C404.83,152.45 419.97,152.5 430,152.7 C440.03,152.9 448.33,153.05 460,153.6 C471.67,154.15 487.33,155.12 500,156 C512.67,156.88 530,158.42 536,158.9 L536,158.9 C531.67,159.75 519.67,162.15 510,164 C500.33,165.85 488.67,167.8 478,170 C467.33,172.2 455,174.93 446,177.2 C437,179.47 430,182.1 424,183.6 C418,185.1 413.67,185.3 410,186.2 C406.33,187.1 403.7,188.03 402,189 C400.3,189.97 400.17,191.5 399.8,192 Z" fill="rgba(186,96,176,0.33)" stroke="none"/>
<path d="M399.4,208 C399.48,207 399.7,203.83 399.9,202 C400.1,200.17 400.3,198.47 400.6,197 C400.9,195.53 401.22,194.18 401.7,193.2 C402.18,192.22 402.7,191.57 403.5,191.1 C404.3,190.63 405.08,190.55 406.5,190.4 C407.92,190.25 408.42,190.23 412,190.2 C415.58,190.17 425.33,190.2 428,190.2" fill="none" stroke="#14AA6E" stroke-width="2.6" stroke-linecap="butt" stroke-linejoin="round"/>
<path d="M436.6,190.2 L456,190.2" fill="none" stroke="#14AA6E" stroke-width="1.8" stroke-dasharray="4.3 3.6" stroke-linecap="butt" stroke-linejoin="round"/>
<circle cx="428.1" cy="190.3" r="5.1" fill="#14AA6E"/>
<path d="M398.8,223 L398.8,211.3" fill="none" stroke="#3C9BD7" stroke-width="2.4" stroke-linecap="butt" stroke-linejoin="round"/>
<path d="M398.8,211.3 C398.88,209.42 399.02,203.22 399.3,200 C399.58,196.78 399.97,194.25 400.5,192 C401.03,189.75 401.75,187.97 402.5,186.5 C403.25,185.03 403.92,184.08 405,183.2 C406.08,182.32 407.5,181.67 409,181.2 C410.5,180.73 411.5,180.58 414,180.4 C416.5,180.22 420.48,180.17 424,180.1 C427.52,180.03 433.25,180.02 435.1,180" fill="none" stroke="#3C9BD7" stroke-width="2.6" stroke-linecap="butt" stroke-linejoin="round"/>
<path d="M442,180.1 L470,180.1" fill="none" stroke="#3C9BD7" stroke-width="1.8" stroke-dasharray="4.4 3.3" stroke-linecap="butt" stroke-linejoin="round"/>
<circle cx="435.2" cy="180" r="3.8" fill="#3C9BD7"/>
<path d="M398.8,211.5 C398.85,209.52 398.88,204.85 399.1,199.6 C399.32,194.35 399.63,184.6 400.1,180 C400.57,175.4 401.1,173.77 401.9,172 C402.7,170.23 403.73,170 404.9,169.4 C406.07,168.8 405.72,168.82 408.9,168.4 C412.08,167.98 418.82,167.28 424,166.9 C429.18,166.52 431,166.63 440,166.1 C449,165.57 466.33,164.5 478,163.7 C489.67,162.9 500.33,162.1 510,161.3 C519.67,160.5 531.67,159.3 536,158.9" fill="none" stroke="#BA60B0" stroke-width="2.6" stroke-linecap="butt" stroke-linejoin="round"/>
<path d="M541,158.9 L675,158.9" fill="none" stroke="#BA60B0" stroke-width="1.3" stroke-dasharray="3.2 3.2" stroke-linecap="butt" stroke-linejoin="round"/>
<circle cx="536" cy="158.9" r="4.6" fill="none" stroke="#BA60B0" stroke-width="1.2"/>
<line x1="484.8" y1="171.3" x2="505.4" y2="171.3" stroke="#E86B6E" stroke-width="2.4"/>
<line x1="484.8" y1="183.8" x2="505.4" y2="183.8" stroke="#9A9A2C" stroke-width="2.4"/>
<line x1="484.8" y1="196.5" x2="505.4" y2="196.5" stroke="#14AA6E" stroke-width="2.4"/>
<line x1="484.8" y1="209.1" x2="505.4" y2="209.1" stroke="#3C9BD7" stroke-width="2.4"/>
<line x1="484.8" y1="221.6" x2="505.4" y2="221.6" stroke="#BA60B0" stroke-width="2.4"/>
<polygon points="495,167.58 498.1,172.95 491.9,172.95" fill="#E86B6E"/>
<ellipse cx="495" cy="183.8" rx="1.3" ry="2.2" fill="#9A9A2C"/>
<circle cx="495" cy="196.5" r="3.4" fill="#14AA6E"/>
<circle cx="495" cy="209.1" r="2.5" fill="#3C9BD7"/>
<circle cx="495" cy="221.6" r="3.4" fill="#BA60B0"/>
<text x="513.6" y="175.5" font-size="10.55" text-anchor="start" font-weight="normal" fill="#000">Gamma, rarefaction + extrapolation</text>
<text x="513.6" y="188" font-size="10.55" text-anchor="start" font-weight="normal" fill="#000">Beta, rarefaction + extrapolation</text>
<text x="513.6" y="200.7" font-size="10.55" text-anchor="start" font-weight="normal" fill="#000">Alpha, rarefaction + extrapolation</text>
<text x="513.6" y="213.3" font-size="10.55" text-anchor="start" font-weight="normal" fill="#000">M, rarefaction + extrapolation</text>
<text x="513.6" y="225.8" font-size="10.55" text-anchor="start" font-weight="normal" fill="#000">Total, rarefaction + extrapolation</text>
<line x1="399.1" y1="234" x2="399.1" y2="240.8" stroke="#222" stroke-width="1.1"/>
<text x="399.1" y="257.5" font-size="10.4" text-anchor="middle" font-weight="normal" fill="#000">0</text>
<line x1="441.67" y1="234" x2="441.67" y2="240.8" stroke="#222" stroke-width="1.1"/>
<text x="441.67" y="257.5" font-size="10.4" text-anchor="middle" font-weight="normal" fill="#000">1000</text>
<line x1="484.24" y1="234" x2="484.24" y2="240.8" stroke="#222" stroke-width="1.1"/>
<text x="484.24" y="257.5" font-size="10.4" text-anchor="middle" font-weight="normal" fill="#000">2000</text>
<line x1="526.81" y1="234" x2="526.81" y2="240.8" stroke="#222" stroke-width="1.1"/>
<text x="526.81" y="257.5" font-size="10.4" text-anchor="middle" font-weight="normal" fill="#000">3000</text>
<line x1="569.38" y1="234" x2="569.38" y2="240.8" stroke="#222" stroke-width="1.1"/>
<text x="569.38" y="257.5" font-size="10.4" text-anchor="middle" font-weight="normal" fill="#000">4000</text>
<line x1="611.95" y1="234" x2="611.95" y2="240.8" stroke="#222" stroke-width="1.1"/>
<text x="611.95" y="257.5" font-size="10.4" text-anchor="middle" font-weight="normal" fill="#000">5000</text>
<line x1="654.52" y1="234" x2="654.52" y2="240.8" stroke="#222" stroke-width="1.1"/>
<text x="654.52" y="257.5" font-size="10.4" text-anchor="middle" font-weight="normal" fill="#000">6000</text>
<line x1="381.2" y1="230.7" x2="388" y2="230.7" stroke="#222" stroke-width="1.1"/>
<text x="373.8" y="230.7" font-size="10.4" text-anchor="middle" font-weight="normal" fill="#000" transform="rotate(-90 373.8 230.7)">0</text>
<line x1="381.2" y1="210.5" x2="388" y2="210.5" stroke="#222" stroke-width="1.1"/>
<text x="373.8" y="210.5" font-size="10.4" text-anchor="middle" font-weight="normal" fill="#000" transform="rotate(-90 373.8 210.5)">2</text>
<line x1="381.2" y1="190.3" x2="388" y2="190.3" stroke="#222" stroke-width="1.1"/>
<text x="373.8" y="190.3" font-size="10.4" text-anchor="middle" font-weight="normal" fill="#000" transform="rotate(-90 373.8 190.3)">4</text>
<line x1="381.2" y1="170.1" x2="388" y2="170.1" stroke="#222" stroke-width="1.1"/>
<text x="373.8" y="170.1" font-size="10.4" text-anchor="middle" font-weight="normal" fill="#000" transform="rotate(-90 373.8 170.1)">6</text>
<line x1="381.2" y1="149.9" x2="388" y2="149.9" stroke="#222" stroke-width="1.1"/>
<text x="373.8" y="149.9" font-size="10.4" text-anchor="middle" font-weight="normal" fill="#000" transform="rotate(-90 373.8 149.9)">8</text>
<rect x="388" y="138.5" width="296.4" height="95.5" fill="none" stroke="#222" stroke-width="1.4"/>
<text x="400.6" y="156.3" font-size="17.8" text-anchor="middle" font-weight="bold" fill="#000">d</text>
<path d="M71.8,355.79 L73.8,353.73 L75.8,352.27 L77.8,351 L79.8,349.83 L81.8,348.73 L83.8,347.69 L85.8,346.69 L87.8,345.73 L89.8,344.79 L91.8,343.88 L93.8,343 L95.8,342.13 L97.8,341.28 L99.8,340.45 L101.8,339.64 L103.8,338.84 L105.8,338.05 L107.8,337.27 L109.8,336.5 L111.8,335.74 L113.8,335 L115.8,334.26 L117.8,333.53 L119.8,332.81 L121.8,332.09 L123.8,331.38 L125.8,330.68 L127.8,329.99 L129.8,329.3 L131.8,328.62 L133.8,327.94 L135.8,327.27 L137.8,326.61 L139.8,325.95 L141.8,325.29 L143.8,324.64 L145.8,324 L147.8,323.36 L149.8,322.72 L151.8,322.09 L153.8,321.46 L155.8,320.83 L157.8,320.21 L159.8,319.59 L161.8,318.98 L163.8,318.37 L165.8,317.76 L167.8,317.16 L169.8,316.56 L171.8,315.96 L173.8,315.36 L175.8,314.77 L177.8,314.18 L179.8,313.6 L181.8,313.01 L183.8,312.43 L185.8,311.85 L187.8,311.28 L189.8,310.71 L191.8,310.14 L193.8,309.57 L195.8,309 L197.8,308.44 L199.8,307.88 L201.8,307.32 L203.8,306.76 L205.8,306.21 L207.8,305.65 L209.8,305.1 L211.8,304.55 L213.8,304.01 L215.8,303.46 L217.8,302.92 L219.8,302.38 L221.8,301.84 L223.8,301.3 L225.8,300.77 L227.8,300.24 L229.8,299.7 L231.8,299.17 L233.8,298.64 L235.8,298.12 L237.8,297.59 L239.8,297.07 L241.8,296.55 L243.8,296.03 L245.8,295.51 L247.8,294.99 L249.8,294.47 L251.8,293.96 L253.8,293.45 L255.8,292.94 L257.8,292.43 L259.8,291.92 L261.8,291.41 L263.8,290.9 L265.8,290.4 L267.8,289.9 L269.8,289.39 L271.8,288.89 L273.8,288.39 L275.8,287.89 L277.8,287.4 L279.8,286.9 L281.8,286.41 L283.8,285.91 L285.8,285.42 L287.8,284.93 L289.8,284.44 L291.8,283.95 L293.8,283.46 L295.8,282.98 L297.8,282.49 L299.8,282.01 L301.8,281.52 L303.8,281.04 L305.8,280.56 L307.8,280.08 L309.8,279.6 L311.8,279.12 L313.8,278.65 L315.8,278.17 L317.8,277.7 L319.8,277.22 L321.8,276.75 L323.8,276.28 L324.4,276.13 L324.4,355.2 L323.8,355.16 L321.8,355.03 L319.8,354.89 L317.8,354.76 L315.8,354.64 L313.8,354.51 L311.8,354.39 L309.8,354.28 L307.8,354.17 L305.8,354.06 L303.8,353.97 L301.8,353.88 L299.8,353.79 L297.8,353.71 L295.8,353.63 L293.8,353.56 L291.8,353.48 L289.8,353.41 L287.8,353.33 L285.8,353.26 L283.8,353.2 L281.8,353.13 L279.8,353.07 L277.8,353.01 L275.8,352.95 L273.8,352.89 L271.8,352.84 L269.8,352.79 L267.8,352.75 L265.8,352.7 L263.8,352.66 L261.8,352.63 L259.8,352.6 L257.8,352.57 L255.8,352.54 L253.8,352.51 L251.8,352.48 L249.8,352.45 L247.8,352.42 L245.8,352.4 L243.8,352.37 L241.8,352.35 L239.8,352.32 L237.8,352.3 L235.8,352.28 L233.8,352.26 L231.8,352.25 L229.8,352.23 L227.8,352.22 L225.8,352.21 L223.8,352.21 L221.8,352.2 L219.8,352.2 L217.8,352.2 L215.8,352.21 L213.8,352.22 L211.8,352.24 L209.8,352.25 L207.8,352.28 L205.8,352.3 L203.8,352.33 L201.8,352.35 L199.8,352.38 L197.8,352.41 L195.8,352.45 L193.8,352.48 L191.8,352.51 L189.8,352.55 L187.8,352.58 L185.8,352.61 L183.8,352.64 L181.8,352.67 L179.8,352.7 L177.8,352.73 L175.8,352.76 L173.8,352.79 L171.8,352.81 L169.8,352.84 L167.8,352.87 L165.8,352.9 L163.8,352.92 L161.8,352.95 L159.8,352.98 L157.8,353.01 L155.8,353.04 L153.8,353.07 L151.8,353.1 L149.8,353.13 L147.8,353.16 L145.8,353.2 L143.8,353.23 L141.8,353.27 L139.8,353.3 L137.8,353.34 L135.8,353.38 L133.8,353.42 L131.8,353.46 L129.8,353.5 L127.8,353.55 L125.8,353.6 L123.8,353.64 L121.8,353.7 L119.8,353.75 L117.8,353.8 L115.8,353.86 L113.8,353.92 L111.8,353.98 L109.8,354.05 L107.8,354.11 L105.8,354.18 L103.8,354.25 L101.8,354.32 L99.8,354.4 L97.8,354.48 L95.8,354.56 L93.8,354.64 L91.8,354.72 L89.8,354.81 L87.8,354.9 L85.8,355.01 L83.8,355.12 L81.8,355.24 L79.8,355.36 L77.8,355.49 L75.8,355.63 L73.8,355.76 L71.8,355.9 Z" fill="rgba(232,112,106,0.33)" stroke="none"/>
<path d="M64.3,364.5 L71.9,355.6 L73.9,355.02 L75.91,354.44 L77.91,353.87 L79.91,353.31 L81.92,352.76 L83.92,352.21 L85.92,351.67 L87.93,351.13 L89.93,350.6 L91.93,350.08 L93.94,349.56 L95.94,349.05 L97.94,348.55 L99.95,348.05 L101.95,347.56 L103.95,347.07 L105.96,346.59 L107.96,346.11 L109.96,345.64 L111.97,345.18 L113.97,344.72 L115.97,344.26 L117.98,343.81 L119.98,343.37 L121.98,342.93 L123.99,342.49 L125.99,342.06 L127.99,341.64 L130,341.22 L132,340.8 L134,340.39 L136,339.98 L138.01,339.58 L140.01,339.18 L142.01,338.79 L144.02,338.4 L146.02,338.02 L148.02,337.63 L150.03,337.26 L152.03,336.88 L154.03,336.52 L156.04,336.15 L158.04,335.79 L160.04,335.43 L162.05,335.08 L164.05,334.73 L166.05,334.38 L168.06,334.04 L170.06,333.7 L172.06,333.36 L174.07,333.03 L176.07,332.7 L178.07,332.37 L180.08,332.05 L182.08,331.73 L184.08,331.41 L186.09,331.1 L188.09,330.79 L190.09,330.48 L192.1,330.18 L194.1,329.88" fill="none" stroke="#E8706A" stroke-width="2.6" stroke-linecap="butt" stroke-linejoin="round"/>
<path d="M194.1,329.88 L196.1,329.58 L198.1,329.29 L200.1,329 L202.09,328.71 L204.09,328.42 L206.09,328.14 L208.09,327.86 L210.09,327.58 L212.09,327.31 L214.08,327.03 L216.08,326.76 L218.08,326.5 L220.08,326.23 L222.08,325.97 L224.08,325.71 L226.08,325.45 L228.07,325.2 L230.07,324.95 L232.07,324.7 L234.07,324.45 L236.07,324.2 L238.07,323.96 L240.06,323.72 L242.06,323.48 L244.06,323.24 L246.06,323.01 L248.06,322.78 L250.06,322.54 L252.06,322.32 L254.05,322.09 L256.05,321.87 L258.05,321.64 L260.05,321.42 L262.05,321.2 L264.05,320.99 L266.04,320.77 L268.04,320.56 L270.04,320.35 L272.04,320.14 L274.04,319.93 L276.04,319.73 L278.04,319.53 L280.03,319.32 L282.03,319.12 L284.03,318.93 L286.03,318.73 L288.03,318.53 L290.03,318.34 L292.02,318.15 L294.02,317.96 L296.02,317.77 L298.02,317.58 L300.02,317.4 L302.02,317.21 L304.02,317.03 L306.01,316.85 L308.01,316.67 L310.01,316.49 L312.01,316.32 L314.01,316.14 L316.01,315.97 L318,315.8 L320,315.63 L322,315.46 L324,315.29" fill="none" stroke="#E8706A" stroke-width="2.6" stroke-dasharray="4.6 11.1" stroke-dashoffset="-1.3" stroke-linecap="round" stroke-linejoin="round"/>
<polygon points="194.2,322.96 200.3,333.53 188.1,333.53" fill="#E8706A"/>
<path d="M71.8,355.84 L73.8,354.19 L75.8,352.84 L77.8,351.65 L79.8,350.57 L81.8,349.56 L83.8,348.61 L85.8,347.7 L87.8,346.84 L89.8,346.01 L91.8,345.21 L93.8,344.43 L95.8,343.67 L97.8,342.94 L99.8,342.22 L101.8,341.52 L103.8,340.84 L105.8,340.17 L107.8,339.51 L109.8,338.87 L111.8,338.23 L113.8,337.61 L115.8,336.99 L117.8,336.39 L119.8,335.79 L121.8,335.2 L123.8,334.62 L125.8,334.05 L127.8,333.49 L129.8,332.93 L131.8,332.38 L133.8,331.83 L135.8,331.29 L137.8,330.75 L139.8,330.23 L141.8,329.7 L143.8,329.18 L145.8,328.67 L147.8,328.16 L149.8,327.66 L151.8,327.16 L153.8,326.66 L155.8,326.17 L157.8,325.68 L159.8,325.19 L161.8,324.71 L163.8,324.24 L165.8,323.76 L167.8,323.29 L169.8,322.83 L171.8,322.36 L173.8,321.9 L175.8,321.45 L177.8,320.99 L179.8,320.54 L181.8,320.09 L183.8,319.65 L185.8,319.2 L187.8,318.76 L189.8,318.33 L191.8,317.89 L193.8,317.46 L195.8,317.03 L197.8,316.6 L199.8,316.18 L201.8,315.75 L203.8,315.33 L205.8,314.91 L207.8,314.5 L209.8,314.08 L211.8,313.67 L213.8,313.26 L215.8,312.85 L217.8,312.44 L219.8,312.04 L221.8,311.63 L223.8,311.23 L225.8,310.83 L227.8,310.44 L229.8,310.04 L231.8,309.65 L233.8,309.25 L235.8,308.86 L237.8,308.47 L239.8,308.09 L241.8,307.7 L243.8,307.32 L245.8,306.93 L247.8,306.55 L249.8,306.17 L251.8,305.79 L253.8,305.42 L255.8,305.04 L257.8,304.67 L259.8,304.3 L261.8,303.92 L263.8,303.55 L265.8,303.19 L267.8,302.82 L269.8,302.45 L271.8,302.09 L273.8,301.72 L275.8,301.36 L277.8,301 L279.8,300.64 L281.8,300.28 L283.8,299.92 L285.8,299.57 L287.8,299.21 L289.8,298.86 L291.8,298.51 L293.8,298.15 L295.8,297.8 L297.8,297.45 L299.8,297.1 L301.8,296.76 L303.8,296.41 L305.8,296.06 L307.8,295.72 L309.8,295.38 L311.8,295.03 L313.8,294.69 L315.8,294.35 L317.8,294.01 L319.8,293.67 L321.8,293.34 L323.8,293 L325.8,292.66 L327.8,292.33 L329.8,291.99 L331.8,291.66 L333.8,291.33 L335.8,291 L337.8,290.67 L339,290.47 L339,339.7 L337.8,339.7 L335.8,339.69 L333.8,339.69 L331.8,339.68 L329.8,339.68 L327.8,339.67 L325.8,339.67 L323.8,339.66 L321.8,339.66 L319.8,339.65 L317.8,339.65 L315.8,339.64 L313.8,339.64 L311.8,339.63 L309.8,339.63 L307.8,339.62 L305.8,339.61 L303.8,339.61 L301.8,339.6 L299.8,339.61 L297.8,339.72 L295.8,339.83 L293.8,339.94 L291.8,340.05 L289.8,340.16 L287.8,340.27 L285.8,340.38 L283.8,340.49 L281.8,340.6 L279.8,340.71 L277.8,340.82 L275.8,340.93 L273.8,341.04 L271.8,341.15 L269.8,341.26 L267.8,341.37 L265.8,341.48 L263.8,341.59 L261.8,341.7 L259.8,341.82 L257.8,341.98 L255.8,342.14 L253.8,342.3 L251.8,342.46 L249.8,342.62 L247.8,342.78 L245.8,342.94 L243.8,343.1 L241.8,343.26 L239.8,343.42 L237.8,343.58 L235.8,343.74 L233.8,343.9 L231.8,344.06 L229.8,344.22 L227.8,344.38 L225.8,344.54 L223.8,344.7 L221.8,344.86 L219.8,345.02 L217.8,345.21 L215.8,345.41 L213.8,345.6 L211.8,345.8 L209.8,345.99 L207.8,346.19 L205.8,346.38 L203.8,346.58 L201.8,346.77 L199.8,346.97 L197.8,347.16 L195.8,347.36 L193.8,347.55 L191.8,347.75 L189.8,347.94 L187.8,348.14 L185.8,348.33 L183.8,348.53 L181.8,348.72 L179.8,348.92 L177.8,349.08 L175.8,349.24 L173.8,349.4 L171.8,349.56 L169.8,349.72 L167.8,349.88 L165.8,350.04 L163.8,350.2 L161.8,350.36 L159.8,350.52 L157.8,350.68 L155.8,350.84 L153.8,351 L151.8,351.16 L149.8,351.32 L147.8,351.52 L145.8,351.72 L143.8,351.92 L141.8,352.12 L139.8,352.32 L137.8,352.52 L135.8,352.72 L133.8,352.92 L131.8,353.12 L129.8,353.32 L127.8,353.48 L125.8,353.64 L123.8,353.79 L121.8,353.95 L119.8,354.11 L117.8,354.27 L115.8,354.43 L113.8,354.59 L111.8,354.75 L109.8,354.91 L107.8,355.05 L105.8,355.16 L103.8,355.27 L101.8,355.38 L99.8,355.5 L97.8,355.61 L95.8,355.72 L93.8,355.83 L91.8,355.94 L89.8,356.05 L87.8,356.17 L85.8,356.28 L83.8,356.25 L81.8,356.19 L79.8,356.14 L77.8,356.08 L75.8,356.02 L73.8,355.96 L71.8,355.9 Z" fill="rgba(20,174,179,0.38)" stroke="none"/>
<path d="M64.3,364.5 L71.9,356.19 L73.89,355.65 L75.88,355.11 L77.87,354.58 L79.86,354.06 L81.85,353.55 L83.84,353.04 L85.84,352.54 L87.83,352.04 L89.82,351.55 L91.81,351.07 L93.8,350.59 L95.79,350.12 L97.78,349.66 L99.77,349.2 L101.76,348.75 L103.75,348.3 L105.74,347.85 L107.73,347.42 L109.72,346.98 L111.72,346.55 L113.71,346.13 L115.7,345.71 L117.69,345.3 L119.68,344.89 L121.67,344.48 L123.66,344.08 L125.65,343.68 L127.64,343.29 L129.63,342.9 L131.62,342.52 L133.61,342.13 L135.6,341.76 L137.6,341.38 L139.59,341.01 L141.58,340.65 L143.57,340.28 L145.56,339.92 L147.55,339.57 L149.54,339.21 L151.53,338.86 L153.52,338.51 L155.51,338.17 L157.5,337.83 L159.49,337.49 L161.48,337.16 L163.48,336.83 L165.47,336.5 L167.46,336.17 L169.45,335.85 L171.44,335.53 L173.43,335.21 L175.42,334.89 L177.41,334.58 L179.4,334.27 L181.39,333.96 L183.38,333.65 L185.37,333.35 L187.36,333.05 L189.36,332.75 L191.35,332.46 L193.34,332.16 L195.33,331.87 L197.32,331.58 L199.31,331.29 L201.3,331.01" fill="none" stroke="#14AEB3" stroke-width="2.6" stroke-linecap="butt" stroke-linejoin="round"/>
<path d="M201.3,331.01 L203.3,330.72 L205.31,330.44 L207.31,330.16 L209.31,329.88 L211.31,329.6 L213.32,329.33 L215.32,329.06 L217.32,328.78 L219.33,328.52 L221.33,328.25 L223.33,327.98 L225.34,327.72 L227.34,327.46 L229.34,327.2 L231.34,326.94 L233.35,326.68 L235.35,326.43 L237.35,326.18 L239.36,325.92 L241.36,325.67 L243.36,325.43 L245.37,325.18 L247.37,324.93 L249.37,324.69 L251.37,324.45 L253.38,324.21 L255.38,323.97 L257.38,323.73 L259.39,323.5 L261.39,323.26 L263.39,323.03 L265.4,322.8 L267.4,322.56 L269.4,322.34 L271.4,322.11 L273.41,321.88 L275.41,321.66 L277.41,321.43 L279.42,321.21 L281.42,320.99 L283.42,320.77 L285.43,320.55 L287.43,320.33 L289.43,320.12 L291.43,319.9 L293.44,319.69 L295.44,319.47 L297.44,319.26 L299.45,319.05 L301.45,318.84 L303.45,318.63 L305.46,318.43 L307.46,318.22 L309.46,318.02 L311.46,317.81 L313.47,317.61 L315.47,317.41 L317.47,317.21 L319.48,317.01 L321.48,316.81 L323.48,316.61 L325.49,316.41 L327.49,316.22 L329.49,316.02 L331.49,315.83 L333.5,315.64 L335.5,315.45" fill="none" stroke="#14AEB3" stroke-width="2.6" stroke-dasharray="4.6 11.1" stroke-dashoffset="-1.3" stroke-linecap="round" stroke-linejoin="round"/>
<polygon points="201.6,325.1 206.1,330.6 201.6,336.1 197.1,330.6" fill="#14AEB3"/>
<line x1="79.4" y1="281.9" x2="100.7" y2="281.9" stroke="#E8706A" stroke-width="2.4"/>
<polygon points="90,278.47 93.2,284.02 86.8,284.02" fill="#E8706A"/>
<line x1="79.4" y1="294.2" x2="100.7" y2="294.2" stroke="#14AEB3" stroke-width="2.4"/>
<polygon points="90,291.6 91.3,294.2 90,296.8 88.7,294.2" fill="#14AEB3"/>
<text x="108.6" y="285.6" font-size="10.55" text-anchor="start" font-weight="normal" fill="#000">Amphibia, Public, raref.+extrap.</text>
<text x="108.6" y="297.9" font-size="10.55" text-anchor="start" font-weight="normal" fill="#000">Amphibia, All, raref.+extrap.</text>
<line x1="64.2" y1="367.9" x2="64.2" y2="374.7" stroke="#222" stroke-width="1.1"/>
<text x="64.2" y="391.4" font-size="10.4" text-anchor="middle" font-weight="normal" fill="#000">0</text>
<line x1="138.57" y1="367.9" x2="138.57" y2="374.7" stroke="#222" stroke-width="1.1"/>
<text x="138.57" y="391.4" font-size="10.4" text-anchor="middle" font-weight="normal" fill="#000">100</text>
<line x1="212.94" y1="367.9" x2="212.94" y2="374.7" stroke="#222" stroke-width="1.1"/>
<text x="212.94" y="391.4" font-size="10.4" text-anchor="middle" font-weight="normal" fill="#000">200</text>
<line x1="287.31" y1="367.9" x2="287.31" y2="374.7" stroke="#222" stroke-width="1.1"/>
<text x="287.31" y="391.4" font-size="10.4" text-anchor="middle" font-weight="normal" fill="#000">300</text>
<line x1="46.9" y1="356.97" x2="53.7" y2="356.97" stroke="#222" stroke-width="1.1"/>
<text x="39.5" y="356.97" font-size="10.4" text-anchor="middle" font-weight="normal" fill="#000" transform="rotate(-90 39.5 356.97)">2</text>
<line x1="46.9" y1="343.33" x2="53.7" y2="343.33" stroke="#222" stroke-width="1.1"/>
<line x1="46.9" y1="329.7" x2="53.7" y2="329.7" stroke="#222" stroke-width="1.1"/>
<text x="39.5" y="329.7" font-size="10.4" text-anchor="middle" font-weight="normal" fill="#000" transform="rotate(-90 39.5 329.7)">6</text>
<line x1="46.9" y1="316.06" x2="53.7" y2="316.06" stroke="#222" stroke-width="1.1"/>
<line x1="46.9" y1="302.43" x2="53.7" y2="302.43" stroke="#222" stroke-width="1.1"/>
<text x="39.5" y="302.43" font-size="10.4" text-anchor="middle" font-weight="normal" fill="#000" transform="rotate(-90 39.5 302.43)">10</text>
<line x1="46.9" y1="288.8" x2="53.7" y2="288.8" stroke="#222" stroke-width="1.1"/>
<line x1="46.9" y1="275.16" x2="53.7" y2="275.16" stroke="#222" stroke-width="1.1"/>
<text x="39.5" y="275.16" font-size="10.4" text-anchor="middle" font-weight="normal" fill="#000" transform="rotate(-90 39.5 275.16)">14</text>
<rect x="53.7" y="272.5" width="296.7" height="95.4" fill="none" stroke="#222" stroke-width="1.4"/>
<text x="64.1" y="290" font-size="17.8" text-anchor="middle" font-weight="bold" fill="#000">e</text>
<path d="M398.3,364.5 L405.9,345.08 L407.9,341.4 L409.9,338.27 L411.9,335.54 L413.9,333.13 L415.9,330.96 L417.9,328.99 L419.9,327.19 L421.9,325.53 L423.9,323.99 L425.9,322.55 L427.9,321.2 L429.9,319.94 L431.9,318.74 L433.9,317.6 L435.9,316.53 L437.9,315.5 L439.9,314.52 L441.9,313.58 L443.9,312.69 L445.9,311.82 L447.9,310.99 L449.9,310.2 L451.9,309.42 L453.9,308.68 L455.9,307.96 L457.9,307.26 L459.9,306.59 L461.9,305.93 L463.9,305.3 L465.9,304.68 L467.9,304.08 L469.9,303.49 L471.9,302.92 L473.9,302.37 L475.9,301.83 L477.9,301.3 L479.9,300.78 L481.9,300.28 L483.9,299.79 L485.9,299.31 L487.9,298.83 L489.9,298.37 L491.9,297.92 L493.9,297.48 L495.9,297.04 L497.9,296.62 L499.9,296.2 L501.9,295.79 L503.9,295.39 L505.9,294.99 L507.9,294.6 L509.9,294.22 L511.9,293.84 L513.9,293.47 L515.9,293.11 L517.9,292.75 L519.9,292.4 L521.9,292.06 L523.9,291.72 L525.9,291.38 L527.9,291.05 L529.9,290.73 L531.9,290.4 L533.9,290.09 L535.9,289.78 L537.9,289.47 L539.9,289.16 L541.9,288.87 L543.9,288.57 L545.9,288.28 L547.9,287.99 L549.9,287.71 L551.9,287.43 L553.9,287.15 L555.9,286.88 L557.9,286.61 L559.9,286.34 L561.9,286.08 L563.9,285.81 L565.9,285.56 L567.9,285.3 L569.9,285.05 L571.9,284.8 L573.9,284.55 L575.9,284.31 L577.9,284.07 L579.9,283.83 L581.9,283.6 L583.9,283.36 L585.9,283.13 L587.9,282.9 L589.9,282.68 L591.9,282.45 L593.9,282.23 L595.9,282.01 L597.9,281.79 L599.9,281.58 L601.9,281.36 L603.9,281.15 L605.9,280.94 L607.9,280.74 L609.9,280.53 L611.9,280.33 L613.9,280.12 L615.9,279.92 L617.9,279.73 L619.9,279.53 L621.9,279.33 L623.9,279.14 L625.9,278.95 L627.9,278.76 L629.9,278.57 L631.9,278.38 L633.9,278.2 L635.9,278.02 L637.9,277.83 L639.9,277.65 L641.9,277.47 L643.9,277.3 L645.9,277.12 L647.9,276.94 L649.9,276.77 L651.9,276.6 L653.9,276.43 L655.9,276.26 L656.4,276.21 L656.4,311.52 L655.9,311.52 L653.9,311.55 L651.9,311.58 L649.9,311.6 L647.9,311.63 L645.9,311.66 L643.9,311.69 L641.9,311.71 L639.9,311.74 L637.9,311.77 L635.9,311.8 L633.9,311.83 L631.9,311.87 L629.9,311.9 L627.9,311.93 L625.9,311.96 L623.9,312 L621.9,312.03 L619.9,312.07 L617.9,312.1 L615.9,312.14 L613.9,312.18 L611.9,312.22 L609.9,312.25 L607.9,312.29 L605.9,312.33 L603.9,312.38 L601.9,312.42 L599.9,312.46 L597.9,312.5 L595.9,312.55 L593.9,312.6 L591.9,312.64 L589.9,312.69 L587.9,312.74 L585.9,312.79 L583.9,312.84 L581.9,312.89 L579.9,312.95 L577.9,313 L575.9,313.06 L573.9,313.11 L571.9,313.17 L569.9,313.23 L567.9,313.29 L565.9,313.36 L563.9,313.42 L561.9,313.49 L559.9,313.56 L557.9,313.63 L555.9,313.7 L553.9,313.77 L551.9,313.84 L549.9,313.92 L547.9,314 L545.9,314.08 L543.9,314.17 L541.9,314.25 L539.9,314.34 L537.9,314.43 L535.9,314.52 L533.9,314.62 L531.9,314.72 L529.9,314.82 L527.9,314.92 L525.9,315.03 L523.9,315.14 L521.9,315.26 L519.9,315.37 L517.9,315.5 L515.9,315.62 L513.9,315.75 L511.9,315.88 L509.9,316.02 L507.9,316.16 L505.9,316.31 L503.9,316.46 L501.9,316.62 L499.9,316.79 L497.9,316.96 L495.9,317.13 L493.9,317.31 L491.9,317.5 L489.9,317.7 L487.9,317.9 L485.9,318.11 L483.9,318.33 L481.9,318.56 L479.9,318.8 L477.9,319.05 L475.9,319.3 L473.9,319.57 L471.9,319.85 L469.9,320.15 L467.9,320.45 L465.9,320.77 L463.9,321.11 L461.9,321.46 L459.9,321.83 L457.9,322.22 L455.9,322.62 L453.9,323.05 L451.9,323.5 L449.9,323.97 L447.9,324.47 L445.9,325 L443.9,325.55 L441.9,326.14 L439.9,326.77 L437.9,327.43 L435.9,328.13 L433.9,328.88 L431.9,329.68 L429.9,330.53 L427.9,331.44 L425.9,332.41 L423.9,333.46 L421.9,334.58 L419.9,335.79 L417.9,337.1 L415.9,338.51 L413.9,340.05 L411.9,341.71 L409.9,343.53 L407.9,345.52 L405.9,347.71 L398.3,364.5 Z" fill="rgba(232,112,106,0.33)" stroke="none"/>
<path d="M398.5,364.5 L405.9,346.26 L407.89,343.01 L409.89,340.18 L411.88,337.68 L413.87,335.46 L415.87,333.46 L417.86,331.65 L419.85,330.01 L421.85,328.5 L423.84,327.1 L425.83,325.82 L427.83,324.62 L429.82,323.5 L431.81,322.46 L433.81,321.48 L435.8,320.55 L437.8,319.68 L439.79,318.86 L441.78,318.08 L443.78,317.34 L445.77,316.63 L447.76,315.96 L449.76,315.32 L451.75,314.71 L453.74,314.12 L455.74,313.56 L457.73,313.02 L459.72,312.5 L461.72,312 L463.71,311.52 L465.7,311.06 L467.7,310.61 L469.69,310.18 L471.68,309.76 L473.68,309.36 L475.67,308.97 L477.66,308.59 L479.66,308.22 L481.65,307.86 L483.64,307.52 L485.64,307.18 L487.63,306.86 L489.62,306.54 L491.62,306.23 L493.61,305.93 L495.6,305.64 L497.6,305.35 L499.59,305.08 L501.59,304.8 L503.58,304.54 L505.57,304.28 L507.57,304.03 L509.56,303.78 L511.55,303.54 L513.55,303.31 L515.54,303.08 L517.53,302.85 L519.53,302.63 L521.52,302.41 L523.51,302.2 L525.51,302 L527.5,301.79" fill="none" stroke="#E8706A" stroke-width="2.2" stroke-linecap="butt" stroke-linejoin="round"/>
<path d="M527.5,301.79 L529.51,301.59 L531.53,301.39 L533.54,301.2 L535.56,301.01 L537.57,300.83 L539.58,300.64 L541.6,300.46 L543.61,300.29 L545.63,300.12 L547.64,299.95 L549.65,299.78 L551.67,299.62 L553.68,299.45 L555.7,299.3 L557.71,299.14 L559.73,298.99 L561.74,298.84 L563.75,298.69 L565.77,298.54 L567.78,298.4 L569.8,298.26 L571.81,298.12 L573.82,297.98 L575.84,297.85 L577.85,297.71 L579.87,297.58 L581.88,297.45 L583.89,297.33 L585.91,297.2 L587.92,297.08 L589.94,296.96 L591.95,296.84 L593.96,296.72 L595.98,296.6 L597.99,296.48 L600.01,296.37 L602.02,296.26 L604.03,296.15 L606.05,296.04 L608.06,295.93 L610.08,295.82 L612.09,295.72 L614.1,295.61 L616.12,295.51 L618.13,295.41 L620.15,295.31 L622.16,295.21 L624.17,295.11 L626.19,295.02 L628.2,294.92 L630.22,294.83 L632.23,294.73 L634.25,294.64 L636.26,294.55 L638.27,294.46 L640.29,294.37 L642.3,294.28 L644.32,294.19 L646.33,294.11 L648.34,294.02 L650.36,293.94 L652.37,293.86 L654.39,293.77 L656.4,293.69" fill="none" stroke="#E8706A" stroke-width="2.6" stroke-dasharray="4.6 11.1" stroke-dashoffset="-1.3" stroke-linecap="round" stroke-linejoin="round"/>
<polygon points="527.5,294.56 533.6,305.13 521.4,305.13" fill="#E8706A"/>
<path d="M398.3,364.5 L405.9,346.28 L407.9,342.6 L409.9,339.47 L411.9,336.74 L413.9,334.33 L415.9,332.16 L417.9,330.19 L419.9,328.39 L421.9,326.73 L423.9,325.19 L425.9,323.75 L427.9,322.4 L429.9,321.14 L431.9,319.94 L433.9,318.8 L435.9,317.73 L437.9,316.7 L439.9,315.72 L441.9,314.78 L443.9,313.89 L445.9,313.02 L447.9,312.19 L449.9,311.4 L451.9,310.62 L453.9,309.88 L455.9,309.16 L457.9,308.46 L459.9,307.79 L461.9,307.13 L463.9,306.5 L465.9,305.88 L467.9,305.28 L469.9,304.69 L471.9,304.12 L473.9,303.57 L475.9,303.03 L477.9,302.5 L479.9,301.98 L481.9,301.48 L483.9,300.99 L485.9,300.51 L487.9,300.03 L489.9,299.57 L491.9,299.12 L493.9,298.68 L495.9,298.24 L497.9,297.82 L499.9,297.4 L501.9,296.99 L503.9,296.59 L505.9,296.19 L507.9,295.8 L509.9,295.42 L511.9,295.04 L513.9,294.67 L515.9,294.31 L517.9,293.95 L519.9,293.6 L521.9,293.26 L523.9,292.92 L525.9,292.58 L527.9,292.25 L529.9,291.93 L531.9,291.6 L533.9,291.29 L535.9,290.98 L537.9,290.67 L539.9,290.36 L541.9,290.07 L543.9,289.77 L545.9,289.48 L547.9,289.19 L549.9,288.91 L551.9,288.63 L553.9,288.35 L555.9,288.08 L557.9,287.81 L559.9,287.54 L561.9,287.28 L563.9,287.01 L565.9,286.76 L567.9,286.5 L569.9,286.25 L571.9,286 L573.9,285.75 L575.9,285.51 L577.9,285.27 L579.9,285.03 L581.9,284.8 L583.9,284.56 L585.9,284.33 L587.9,284.1 L589.9,283.88 L591.9,283.65 L593.9,283.43 L595.9,283.21 L597.9,282.99 L599.9,282.78 L601.9,282.56 L603.9,282.35 L605.9,282.14 L607.9,281.94 L609.9,281.73 L611.9,281.53 L613.9,281.32 L615.9,281.12 L617.9,280.93 L619.9,280.73 L621.9,280.53 L623.9,280.34 L625.9,280.15 L627.9,279.96 L629.9,279.77 L631.9,279.58 L633.9,279.4 L635.9,279.22 L637.9,279.03 L639.9,278.85 L641.9,278.67 L643.9,278.5 L645.9,278.32 L647.9,278.14 L649.9,277.97 L651.9,277.8 L653.9,277.63 L655.9,277.46 L657.9,277.29 L659.9,277.12 L661.9,276.95 L663.9,276.79 L665.9,276.63 L667.9,276.46 L669.9,276.3 L671.9,276.14 L673.4,276.02 L673.4,310.72 L671.9,310.73 L669.9,310.75 L667.9,310.78 L665.9,310.8 L663.9,310.82 L661.9,310.85 L659.9,310.87 L657.9,310.9 L655.9,310.92 L653.9,310.95 L651.9,310.98 L649.9,311 L647.9,311.03 L645.9,311.06 L643.9,311.09 L641.9,311.11 L639.9,311.14 L637.9,311.17 L635.9,311.2 L633.9,311.23 L631.9,311.27 L629.9,311.3 L627.9,311.33 L625.9,311.36 L623.9,311.4 L621.9,311.43 L619.9,311.47 L617.9,311.5 L615.9,311.54 L613.9,311.58 L611.9,311.62 L609.9,311.65 L607.9,311.69 L605.9,311.73 L603.9,311.78 L601.9,311.82 L599.9,311.86 L597.9,311.9 L595.9,311.95 L593.9,312 L591.9,312.04 L589.9,312.09 L587.9,312.14 L585.9,312.19 L583.9,312.24 L581.9,312.29 L579.9,312.35 L577.9,312.4 L575.9,312.46 L573.9,312.51 L571.9,312.57 L569.9,312.63 L567.9,312.69 L565.9,312.76 L563.9,312.82 L561.9,312.89 L559.9,312.96 L557.9,313.03 L555.9,313.1 L553.9,313.17 L551.9,313.24 L549.9,313.32 L547.9,313.4 L545.9,313.48 L543.9,313.57 L541.9,313.65 L539.9,313.74 L537.9,313.83 L535.9,313.92 L533.9,314.02 L531.9,314.12 L529.9,314.22 L527.9,314.32 L525.9,314.43 L523.9,314.54 L521.9,314.66 L519.9,314.77 L517.9,314.9 L515.9,315.02 L513.9,315.15 L511.9,315.28 L509.9,315.42 L507.9,315.56 L505.9,315.71 L503.9,315.86 L501.9,316.02 L499.9,316.19 L497.9,316.36 L495.9,316.53 L493.9,316.71 L491.9,316.9 L489.9,317.1 L487.9,317.3 L485.9,317.51 L483.9,317.73 L481.9,317.96 L479.9,318.2 L477.9,318.45 L475.9,318.7 L473.9,318.97 L471.9,319.25 L469.9,319.55 L467.9,319.85 L465.9,320.17 L463.9,320.51 L461.9,320.86 L459.9,321.23 L457.9,321.62 L455.9,322.02 L453.9,322.45 L451.9,322.9 L449.9,323.37 L447.9,323.87 L445.9,324.4 L443.9,324.95 L441.9,325.54 L439.9,326.17 L437.9,326.83 L435.9,327.53 L433.9,328.28 L431.9,329.08 L429.9,329.93 L427.9,330.84 L425.9,331.81 L423.9,332.86 L421.9,333.98 L419.9,335.19 L417.9,336.5 L415.9,337.91 L413.9,339.45 L411.9,341.11 L409.9,342.93 L407.9,344.92 L405.9,347.11 L398.3,364.5 Z" fill="rgba(20,174,179,0.38)" stroke="none"/>
<path d="M398.5,364.5 L405.9,346.7 L407.9,343.53 L409.9,340.81 L411.9,338.42 L413.89,336.3 L415.89,334.41 L417.89,332.7 L419.89,331.13 L421.89,329.7 L423.89,328.38 L425.88,327.16 L427.88,326.02 L429.88,324.95 L431.88,323.95 L433.88,323.01 L435.88,322.13 L437.88,321.29 L439.87,320.49 L441.87,319.74 L443.87,319.02 L445.87,318.33 L447.87,317.68 L449.87,317.05 L451.86,316.45 L453.86,315.87 L455.86,315.31 L457.86,314.78 L459.86,314.26 L461.86,313.77 L463.86,313.29 L465.85,312.82 L467.85,312.37 L469.85,311.94 L471.85,311.52 L473.85,311.11 L475.85,310.72 L477.84,310.33 L479.84,309.96 L481.84,309.59 L483.84,309.24 L485.84,308.9 L487.84,308.56 L489.84,308.23 L491.83,307.92 L493.83,307.6 L495.83,307.3 L497.83,307 L499.83,306.72 L501.83,306.43 L503.82,306.16 L505.82,305.88 L507.82,305.62 L509.82,305.36 L511.82,305.11 L513.82,304.86 L515.82,304.61 L517.81,304.37 L519.81,304.14 L521.81,303.91 L523.81,303.68 L525.81,303.46 L527.81,303.24 L529.8,303.03 L531.8,302.82 L533.8,302.62 L535.8,302.41" fill="none" stroke="#14AEB3" stroke-width="2.6" stroke-linecap="butt" stroke-linejoin="round"/>
<path d="M535.8,302.41 L537.81,302.21 L539.81,302.02 L541.82,301.82 L543.82,301.63 L545.83,301.45 L547.84,301.26 L549.84,301.08 L551.85,300.9 L553.85,300.73 L555.86,300.55 L557.87,300.38 L559.87,300.22 L561.88,300.05 L563.88,299.89 L565.89,299.73 L567.9,299.57 L569.9,299.41 L571.91,299.26 L573.91,299.11 L575.92,298.96 L577.93,298.81 L579.93,298.66 L581.94,298.52 L583.94,298.38 L585.95,298.24 L587.96,298.1 L589.96,297.96 L591.97,297.83 L593.97,297.69 L595.98,297.56 L597.99,297.43 L599.99,297.3 L602,297.18 L604,297.05 L606.01,296.93 L608.01,296.8 L610.02,296.68 L612.03,296.56 L614.03,296.44 L616.04,296.33 L618.04,296.21 L620.05,296.1 L622.06,295.98 L624.06,295.87 L626.07,295.76 L628.07,295.65 L630.08,295.54 L632.09,295.43 L634.09,295.33 L636.1,295.22 L638.1,295.12 L640.11,295.01 L642.12,294.91 L644.12,294.81 L646.13,294.71 L648.13,294.61 L650.14,294.51 L652.15,294.41 L654.15,294.32 L656.16,294.22 L658.16,294.13 L660.17,294.03 L662.18,293.94 L664.18,293.85 L666.19,293.76 L668.19,293.67 L670.2,293.58" fill="none" stroke="#14AEB3" stroke-width="2.6" stroke-dasharray="4.6 11.1" stroke-dashoffset="-1.3" stroke-linecap="round" stroke-linejoin="round"/>
<polygon points="535.8,296.5 540.3,302 535.8,307.5 531.3,302" fill="#14AEB3"/>
<line x1="440.85" y1="329.9" x2="459.75" y2="329.9" stroke="#111" stroke-width="1.5" stroke-dasharray="2.7 5.3" stroke-linecap="round"/>
<line x1="439.7" y1="343.1" x2="460.7" y2="343.1" stroke="#E8706A" stroke-width="2.4"/>
<polygon points="450.2,339.67 453.4,345.22 447,345.22" fill="#E8706A"/>
<line x1="439.7" y1="355.5" x2="460.7" y2="355.5" stroke="#14AEB3" stroke-width="2.4"/>
<polygon points="450.2,352.9 451.5,355.5 450.2,358.1 448.9,355.5" fill="#14AEB3"/>
<text x="469.2" y="333.6" font-size="10.55" text-anchor="start" font-weight="normal" fill="#000">Minimum species richness/ACE (All)</text>
<text x="469.2" y="346.8" font-size="10.55" text-anchor="start" font-weight="normal" fill="#000">Squamata, Public, rarefaction + extrapolation</text>
<text x="469.2" y="359.2" font-size="10.55" text-anchor="start" font-weight="normal" fill="#000">Squamata, All, rarefaction + extrapolation</text>
<path d="M398.5,364.5 L400.5,353.6 L402,341.7 L403.9,331.7 L406.9,327.8 L410.9,324.3 L414.4,320.3 L416.8,321.8 L419.3,322.3 L423.8,319.3 L428.7,314.9 L433.7,312.4 L437.7,312.9 L441.6,310.4 L445.6,307.9 L449.6,306 L455.5,304 L463.9,301.4 L477.7,298.6 L488.8,296.3 L498.5,295.9 L508.3,295.9 L516.6,297 L523.5,298.6" fill="none" stroke="#111" stroke-width="1.5" stroke-dasharray="2.7 5.3" stroke-linecap="round" stroke-linejoin="round"/>
<line x1="398.3" y1="367.9" x2="398.3" y2="374.7" stroke="#222" stroke-width="1.1"/>
<text x="398.3" y="391.4" font-size="10.4" text-anchor="middle" font-weight="normal" fill="#000">0</text>
<line x1="444.07" y1="367.9" x2="444.07" y2="374.7" stroke="#222" stroke-width="1.1"/>
<text x="444.07" y="391.4" font-size="10.4" text-anchor="middle" font-weight="normal" fill="#000">50</text>
<line x1="489.85" y1="367.9" x2="489.85" y2="374.7" stroke="#222" stroke-width="1.1"/>
<text x="489.85" y="391.4" font-size="10.4" text-anchor="middle" font-weight="normal" fill="#000">100</text>
<line x1="535.62" y1="367.9" x2="535.62" y2="374.7" stroke="#222" stroke-width="1.1"/>
<text x="535.62" y="391.4" font-size="10.4" text-anchor="middle" font-weight="normal" fill="#000">150</text>
<line x1="581.4" y1="367.9" x2="581.4" y2="374.7" stroke="#222" stroke-width="1.1"/>
<text x="581.4" y="391.4" font-size="10.4" text-anchor="middle" font-weight="normal" fill="#000">200</text>
<line x1="627.17" y1="367.9" x2="627.17" y2="374.7" stroke="#222" stroke-width="1.1"/>
<text x="627.17" y="391.4" font-size="10.4" text-anchor="middle" font-weight="normal" fill="#000">250</text>
<line x1="672.95" y1="367.9" x2="672.95" y2="374.7" stroke="#222" stroke-width="1.1"/>
<text x="672.95" y="391.4" font-size="10.4" text-anchor="middle" font-weight="normal" fill="#000">300</text>
<line x1="381.2" y1="367.2" x2="388" y2="367.2" stroke="#222" stroke-width="1.1"/>
<text x="373.8" y="367.2" font-size="10.4" text-anchor="middle" font-weight="normal" fill="#000" transform="rotate(-90 373.8 367.2)">0</text>
<line x1="381.2" y1="351.57" x2="388" y2="351.57" stroke="#222" stroke-width="1.1"/>
<text x="373.8" y="351.57" font-size="10.4" text-anchor="middle" font-weight="normal" fill="#000" transform="rotate(-90 373.8 351.57)">5</text>
<line x1="381.2" y1="335.95" x2="388" y2="335.95" stroke="#222" stroke-width="1.1"/>
<line x1="381.2" y1="320.32" x2="388" y2="320.32" stroke="#222" stroke-width="1.1"/>
<text x="373.8" y="320.32" font-size="10.4" text-anchor="middle" font-weight="normal" fill="#000" transform="rotate(-90 373.8 320.32)">15</text>
<line x1="381.2" y1="304.7" x2="388" y2="304.7" stroke="#222" stroke-width="1.1"/>
<line x1="381.2" y1="289.07" x2="388" y2="289.07" stroke="#222" stroke-width="1.1"/>
<text x="373.8" y="289.07" font-size="10.4" text-anchor="middle" font-weight="normal" fill="#000" transform="rotate(-90 373.8 289.07)">25</text>
<line x1="381.2" y1="273.45" x2="388" y2="273.45" stroke="#222" stroke-width="1.1"/>
<rect x="388" y="272.5" width="296.4" height="95.4" fill="none" stroke="#222" stroke-width="1.4"/>
<text x="400.6" y="290" font-size="17.8" text-anchor="middle" font-weight="bold" fill="#000">f</text>
<path d="M71.9,456 C72.25,455.07 72.62,452.57 74,450.4 C75.38,448.23 77.33,445.22 80.2,443 C83.07,440.78 85.9,439.05 91.2,437.1 C96.5,435.15 106.25,432.88 112,431.3 C117.75,429.72 119.77,429.05 125.7,427.6 C131.63,426.15 140.3,424.27 147.6,422.6 C154.9,420.93 162.2,419.35 169.5,417.6 C176.8,415.85 185.98,413.48 191.4,412.1 C196.82,410.72 199.23,409.97 202,409.3 C204.77,408.63 205,408.32 208,408.1 C211,407.88 199.33,408.02 220,408 C240.67,407.98 313.33,408 332,408 L332,444.6 C313.33,444.6 241.67,444.6 220,444.6 C198.33,444.6 206.77,444.53 202,444.6 C197.23,444.67 196.82,444.72 191.4,445 C185.98,445.28 176.8,446 169.5,446.3 C162.2,446.6 154.9,446.62 147.6,446.8 C140.3,446.98 131.63,447.18 125.7,447.4 C119.77,447.62 117.75,447.52 112,448.1 C106.25,448.68 96.5,449.95 91.2,450.9 C85.9,451.85 83.07,452.93 80.2,453.8 C77.33,454.67 75.38,455.58 74,456.1 C72.62,456.62 72.25,456.77 71.9,456.9 Z" fill="rgba(232,112,106,0.33)" stroke="none"/>
<path d="M64.8,498.1 L71.9,456.1 L71.9,456.1 C72.58,455.32 74.62,452.75 76,451.4 C77.38,450.05 77.67,449.38 80.2,448 C82.73,446.62 85.9,444.67 91.2,443.1 C96.5,441.53 106.25,439.73 112,438.6 C117.75,437.47 121.87,436.98 125.7,436.3 C129.53,435.62 130.12,435.22 135,434.5 C139.88,433.78 148.33,432.92 155,432 C161.67,431.08 167.92,430.03 175,429 C182.08,427.97 193.75,426.33 197.5,425.8" fill="none" stroke="#E8706A" stroke-width="2.2" stroke-linecap="butt" stroke-linejoin="round"/>
<path d="M197.5,425.8 L202.5,426.4 L336.4,426.4" fill="none" stroke="#E8706A" stroke-width="2.6" stroke-dasharray="4.6 11.1" stroke-dashoffset="-1.3" stroke-linecap="round" stroke-linejoin="round"/>
<polygon points="197.5,418.96 203.6,429.53 191.4,429.53" fill="#E8706A"/>
<path d="M71.9,456.4 C72.25,455.47 72.62,452.97 74,450.8 C75.38,448.63 77.33,445.52 80.2,443.4 C83.07,441.28 85.9,439.95 91.2,438.1 C96.5,436.25 106.25,433.88 112,432.3 C117.75,430.72 119.77,430.05 125.7,428.6 C131.63,427.15 140.3,425.27 147.6,423.6 C154.9,421.93 162.2,420.35 169.5,418.6 C176.8,416.85 185.98,414.48 191.4,413.1 C196.82,411.72 199.23,410.97 202,410.3 C204.77,409.63 205,409.32 208,409.1 C211,408.88 198.05,409.02 220,409 C241.95,408.98 319.75,409 339.7,409 L339.7,443.4 C319.75,443.4 242.95,443.4 220,443.4 C197.05,443.4 206.77,443.33 202,443.4 C197.23,443.47 196.82,443.62 191.4,443.8 C185.98,443.98 176.8,444.3 169.5,444.5 C162.2,444.7 154.9,444.82 147.6,445 C140.3,445.18 131.63,445.38 125.7,445.6 C119.77,445.82 117.75,445.72 112,446.3 C106.25,446.88 96.5,447.93 91.2,449.1 C85.9,450.27 83.07,452.22 80.2,453.3 C77.33,454.38 75.38,455.08 74,455.6 C72.62,456.12 72.25,456.27 71.9,456.4 Z" fill="rgba(20,174,179,0.38)" stroke="none"/>
<path d="M64.8,498.1 L71.9,456.4 L71.9,456.4 C72.58,455.63 74.62,453.13 76,451.8 C77.38,450.47 77.67,449.77 80.2,448.4 C82.73,447.03 85.9,445.13 91.2,443.6 C96.5,442.07 106.25,440.32 112,439.2 C117.75,438.08 121.87,437.58 125.7,436.9 C129.53,436.22 130.12,435.78 135,435.1 C139.88,434.42 148.33,433.67 155,432.8 C161.67,431.93 168.93,430.77 175,429.9 C181.07,429.03 186.92,428.17 191.4,427.6 C195.88,427.03 200.15,426.68 201.9,426.5" fill="none" stroke="#14AEB3" stroke-width="2.6" stroke-linecap="butt" stroke-linejoin="round"/>
<path d="M201.9,426.4 L336.4,426.4" fill="none" stroke="#14AEB3" stroke-width="2.6" stroke-dasharray="4.6 11.1" stroke-dashoffset="-1.3" stroke-linecap="round" stroke-linejoin="round"/>
<polygon points="201.9,421 206.4,426.5 201.9,432 197.4,426.5" fill="#14AEB3"/>
<line x1="103.6" y1="476.2" x2="124.1" y2="476.2" stroke="#E8706A" stroke-width="2.4"/>
<polygon points="113.9,472.77 117.1,478.32 110.7,478.32" fill="#E8706A"/>
<line x1="103.6" y1="489.1" x2="124.1" y2="489.1" stroke="#14AEB3" stroke-width="2.4"/>
<polygon points="113.9,486.5 115.2,489.1 113.9,491.7 112.6,489.1" fill="#14AEB3"/>
<text x="132.6" y="479.9" font-size="10.55" text-anchor="start" font-weight="normal" fill="#000">Testudines, Public, rarefaction + extrapolation</text>
<text x="132.6" y="492.8" font-size="10.55" text-anchor="start" font-weight="normal" fill="#000">Testudines, All, rarefaction + extrapolation</text>
<line x1="64.2" y1="501.2" x2="64.2" y2="508" stroke="#222" stroke-width="1.1"/>
<text x="64.2" y="524.7" font-size="10.4" text-anchor="middle" font-weight="normal" fill="#000">0</text>
<line x1="123.2" y1="501.2" x2="123.2" y2="508" stroke="#222" stroke-width="1.1"/>
<text x="123.2" y="524.7" font-size="10.4" text-anchor="middle" font-weight="normal" fill="#000">100</text>
<line x1="182.2" y1="501.2" x2="182.2" y2="508" stroke="#222" stroke-width="1.1"/>
<text x="182.2" y="524.7" font-size="10.4" text-anchor="middle" font-weight="normal" fill="#000">200</text>
<line x1="241.2" y1="501.2" x2="241.2" y2="508" stroke="#222" stroke-width="1.1"/>
<text x="241.2" y="524.7" font-size="10.4" text-anchor="middle" font-weight="normal" fill="#000">300</text>
<line x1="300.2" y1="501.2" x2="300.2" y2="508" stroke="#222" stroke-width="1.1"/>
<text x="300.2" y="524.7" font-size="10.4" text-anchor="middle" font-weight="normal" fill="#000">400</text>
<line x1="46.9" y1="497.9" x2="53.7" y2="497.9" stroke="#222" stroke-width="1.1"/>
<text x="39.5" y="497.9" font-size="10.4" text-anchor="middle" font-weight="normal" fill="#000" transform="rotate(-90 39.5 497.9)">1</text>
<line x1="46.9" y1="480.08" x2="53.7" y2="480.08" stroke="#222" stroke-width="1.1"/>
<text x="39.5" y="480.08" font-size="10.4" text-anchor="middle" font-weight="normal" fill="#000" transform="rotate(-90 39.5 480.08)">2</text>
<line x1="46.9" y1="462.26" x2="53.7" y2="462.26" stroke="#222" stroke-width="1.1"/>
<text x="39.5" y="462.26" font-size="10.4" text-anchor="middle" font-weight="normal" fill="#000" transform="rotate(-90 39.5 462.26)">3</text>
<line x1="46.9" y1="444.44" x2="53.7" y2="444.44" stroke="#222" stroke-width="1.1"/>
<text x="39.5" y="444.44" font-size="10.4" text-anchor="middle" font-weight="normal" fill="#000" transform="rotate(-90 39.5 444.44)">4</text>
<line x1="46.9" y1="426.62" x2="53.7" y2="426.62" stroke="#222" stroke-width="1.1"/>
<text x="39.5" y="426.62" font-size="10.4" text-anchor="middle" font-weight="normal" fill="#000" transform="rotate(-90 39.5 426.62)">5</text>
<line x1="46.9" y1="408.8" x2="53.7" y2="408.8" stroke="#222" stroke-width="1.1"/>
<text x="39.5" y="408.8" font-size="10.4" text-anchor="middle" font-weight="normal" fill="#000" transform="rotate(-90 39.5 408.8)">6</text>
<rect x="53.7" y="405.8" width="296.7" height="95.4" fill="none" stroke="#222" stroke-width="1.4"/>
<text x="64.1" y="423.5" font-size="17.8" text-anchor="middle" font-weight="bold" fill="#000">g</text>
<path d="M405.3,478.5 L407.3,474.99 L409.3,471.69 L411.3,468.91 L413.3,466.94 L415.3,465.68 L417.3,464.61 L419.3,463.71 L421.3,462.93 L423.3,462.23 L425.3,461.6 L427.3,460.99 L429.3,460.36 L431.3,459.7 L433.3,459.03 L435.3,458.39 L437.3,457.77 L439.3,457.18 L441.3,456.59 L443.3,456.02 L445.3,455.45 L447.3,454.89 L449.3,454.31 L451.3,453.73 L453.3,453.14 L455.3,452.52 L457.3,451.89 L459.3,451.25 L461.3,450.61 L463.3,449.96 L465.3,449.31 L467.3,448.67 L469.3,448.03 L471.3,447.41 L473.3,446.81 L475.3,446.21 L477.3,445.62 L479.3,445.03 L481.3,444.45 L483.3,443.88 L485.3,443.32 L487.3,442.79 L489.3,442.27 L491.3,441.78 L493.3,441.31 L495.3,440.86 L497.3,440.41 L499.3,439.98 L501.3,439.56 L503.3,439.14 L505.3,438.73 L507.3,438.33 L509.3,437.92 L511.3,437.52 L513.3,437.11 L515.3,436.7 L517.3,436.28 L519.3,435.85 L521.3,435.42 L523.3,434.98 L525.3,434.54 L527.3,434.09 L529.3,433.65 L531.3,433.2 L533.3,432.76 L535.3,432.31 L537.3,431.86 L539.3,431.41 L541.3,430.96 L543.3,430.51 L545.3,430.06 L547.3,429.61 L549.3,429.16 L551.3,428.71 L553.3,428.25 L555.3,427.79 L557.3,427.33 L559.3,426.87 L561.3,426.41 L563.3,425.95 L565.3,425.48 L567.3,425.02 L569.3,424.57 L571.3,424.11 L573.3,423.66 L575.3,423.22 L577.3,422.78 L579.3,422.35 L581.3,421.92 L583.3,421.5 L585.3,421.07 L587.3,420.64 L589.3,420.21 L591.3,419.79 L593.3,419.37 L595.3,418.96 L597.3,418.55 L599.3,418.15 L601.3,417.76 L603.3,417.38 L605.3,417.01 L607.3,416.66 L609.3,416.32 L611.3,415.99 L613.3,415.67 L615.3,415.36 L617.3,415.05 L619.3,414.75 L621.3,414.46 L623.3,414.18 L625.3,413.9 L627.3,413.63 L629.3,413.36 L631.3,413.1 L633.3,412.84 L635.3,412.58 L637.3,412.33 L639.3,412.09 L641.3,411.84 L643.3,411.6 L645.3,411.37 L647.3,411.14 L649.3,410.92 L651.3,410.7 L653.3,410.48 L655.3,410.27 L657.3,410.07 L658,410 L658,449.5 L657.3,449.51 L655.3,449.55 L653.3,449.59 L651.3,449.63 L649.3,449.67 L647.3,449.72 L645.3,449.76 L643.3,449.81 L641.3,449.87 L639.3,449.92 L637.3,449.98 L635.3,450.03 L633.3,450.09 L631.3,450.16 L629.3,450.22 L627.3,450.28 L625.3,450.35 L623.3,450.42 L621.3,450.49 L619.3,450.56 L617.3,450.63 L615.3,450.7 L613.3,450.78 L611.3,450.85 L609.3,450.93 L607.3,451.01 L605.3,451.09 L603.3,451.18 L601.3,451.27 L599.3,451.37 L597.3,451.47 L595.3,451.57 L593.3,451.68 L591.3,451.79 L589.3,451.9 L587.3,452.01 L585.3,452.13 L583.3,452.24 L581.3,452.36 L579.3,452.49 L577.3,452.61 L575.3,452.73 L573.3,452.86 L571.3,452.98 L569.3,453.11 L567.3,453.23 L565.3,453.36 L563.3,453.48 L561.3,453.61 L559.3,453.73 L557.3,453.86 L555.3,453.98 L553.3,454.1 L551.3,454.22 L549.3,454.34 L547.3,454.46 L545.3,454.57 L543.3,454.68 L541.3,454.78 L539.3,454.89 L537.3,454.99 L535.3,455.09 L533.3,455.19 L531.3,455.29 L529.3,455.39 L527.3,455.49 L525.3,455.59 L523.3,455.7 L521.3,455.8 L519.3,455.91 L517.3,456.02 L515.3,456.13 L513.3,456.25 L511.3,456.37 L509.3,456.49 L507.3,456.62 L505.3,456.76 L503.3,456.9 L501.3,457.04 L499.3,457.19 L497.3,457.35 L495.3,457.52 L493.3,457.69 L491.3,457.88 L489.3,458.07 L487.3,458.3 L485.3,458.57 L483.3,458.87 L481.3,459.19 L479.3,459.54 L477.3,459.9 L475.3,460.26 L473.3,460.62 L471.3,460.98 L469.3,461.32 L467.3,461.67 L465.3,462.02 L463.3,462.38 L461.3,462.74 L459.3,463.11 L457.3,463.47 L455.3,463.84 L453.3,464.2 L451.3,464.55 L449.3,464.89 L447.3,465.23 L445.3,465.57 L443.3,465.92 L441.3,466.26 L439.3,466.62 L437.3,467 L435.3,467.39 L433.3,467.8 L431.3,468.23 L429.3,468.68 L427.3,469.13 L425.3,469.59 L423.3,470.08 L421.3,470.61 L419.3,471.19 L417.3,471.84 L415.3,472.57 L413.3,473.39 L411.3,474.47 L409.3,475.85 L407.3,477.43 L405.3,479.1 Z" fill="rgba(232,112,106,0.33)" stroke="none"/>
<path d="M398.6,498.3 L405.3,478.78 L407.3,475.59 L409.31,473.61 L411.31,472.07 L413.32,470.76 L415.32,469.62 L417.33,468.59 L419.33,467.64 L421.34,466.77 L423.34,465.95 L425.35,465.18 L427.35,464.45 L429.36,463.76 L431.36,463.1 L433.37,462.46 L435.37,461.85 L437.38,461.26 L439.38,460.69 L441.39,460.14 L443.39,459.61 L445.4,459.09 L447.4,458.58 L449.41,458.09 L451.41,457.61 L453.42,457.14 L455.42,456.68 L457.43,456.23 L459.43,455.79 L461.44,455.36 L463.44,454.94 L465.45,454.53 L467.45,454.12 L469.46,453.72 L471.46,453.33 L473.47,452.95 L475.47,452.57 L477.48,452.19 L479.48,451.83 L481.49,451.47 L483.49,451.11 L485.5,450.76 L487.5,450.41 L489.51,450.07 L491.51,449.73 L493.52,449.4 L495.52,449.07 L497.53,448.74 L499.53,448.42 L501.54,448.1 L503.54,447.79 L505.55,447.48 L507.55,447.17 L509.56,446.87 L511.56,446.57 L513.57,446.27 L515.57,445.98 L517.58,445.69 L519.58,445.4 L521.59,445.11 L523.59,444.83 L525.6,444.55 L527.6,444.27" fill="none" stroke="#E8706A" stroke-width="2.6" stroke-linecap="butt" stroke-linejoin="round"/>
<path d="M527.6,444.27 L529.61,444 L531.61,443.73 L533.62,443.46 L535.62,443.19 L537.63,442.92 L539.64,442.66 L541.64,442.4 L543.65,442.14 L545.66,441.88 L547.66,441.63 L549.67,441.37 L551.67,441.12 L553.68,440.87 L555.69,440.63 L557.69,440.38 L559.7,440.14 L561.7,439.9 L563.71,439.66 L565.72,439.42 L567.72,439.18 L569.73,438.95 L571.74,438.71 L573.74,438.48 L575.75,438.25 L577.75,438.02 L579.76,437.79 L581.77,437.57 L583.77,437.34 L585.78,437.12 L587.78,436.9 L589.79,436.68 L591.8,436.46 L593.8,436.24 L595.81,436.02 L597.82,435.81 L599.82,435.6 L601.83,435.38 L603.83,435.17 L605.84,434.96 L607.85,434.75 L609.85,434.54 L611.86,434.34 L613.86,434.13 L615.87,433.93 L617.88,433.72 L619.88,433.52 L621.89,433.32 L623.9,433.12 L625.9,432.92 L627.91,432.72 L629.91,432.52 L631.92,432.33 L633.93,432.13 L635.93,431.94 L637.94,431.74 L639.94,431.55 L641.95,431.36 L643.96,431.17 L645.96,430.98 L647.97,430.79 L649.98,430.6 L651.98,430.41 L653.99,430.23 L655.99,430.04 L658,429.86" fill="none" stroke="#E8706A" stroke-width="2.6" stroke-dasharray="4.6 11.1" stroke-dashoffset="-1.3" stroke-linecap="round" stroke-linejoin="round"/>
<polygon points="527.6,436.26 533.7,446.83 521.5,446.83" fill="#E8706A"/>
<path d="M405.3,479.1 L407.3,475.59 L409.3,472.29 L411.3,469.51 L413.3,467.54 L415.3,466.28 L417.3,465.21 L419.3,464.31 L421.3,463.53 L423.3,462.83 L425.3,462.2 L427.3,461.59 L429.3,460.96 L431.3,460.3 L433.3,459.63 L435.3,458.99 L437.3,458.37 L439.3,457.78 L441.3,457.19 L443.3,456.62 L445.3,456.05 L447.3,455.49 L449.3,454.91 L451.3,454.33 L453.3,453.74 L455.3,453.12 L457.3,452.49 L459.3,451.85 L461.3,451.21 L463.3,450.56 L465.3,449.91 L467.3,449.27 L469.3,448.63 L471.3,448.01 L473.3,447.41 L475.3,446.81 L477.3,446.22 L479.3,445.63 L481.3,445.05 L483.3,444.48 L485.3,443.92 L487.3,443.39 L489.3,442.87 L491.3,442.38 L493.3,441.91 L495.3,441.46 L497.3,441.01 L499.3,440.58 L501.3,440.16 L503.3,439.74 L505.3,439.33 L507.3,438.93 L509.3,438.52 L511.3,438.12 L513.3,437.71 L515.3,437.3 L517.3,436.88 L519.3,436.45 L521.3,436.02 L523.3,435.58 L525.3,435.14 L527.3,434.69 L529.3,434.25 L531.3,433.8 L533.3,433.36 L535.3,432.91 L537.3,432.46 L539.3,432.01 L541.3,431.56 L543.3,431.11 L545.3,430.66 L547.3,430.21 L549.3,429.76 L551.3,429.31 L553.3,428.85 L555.3,428.39 L557.3,427.93 L559.3,427.47 L561.3,427.01 L563.3,426.55 L565.3,426.08 L567.3,425.62 L569.3,425.17 L571.3,424.71 L573.3,424.26 L575.3,423.82 L577.3,423.38 L579.3,422.95 L581.3,422.52 L583.3,422.1 L585.3,421.67 L587.3,421.24 L589.3,420.81 L591.3,420.39 L593.3,419.97 L595.3,419.56 L597.3,419.15 L599.3,418.75 L601.3,418.36 L603.3,417.98 L605.3,417.61 L607.3,417.26 L609.3,416.92 L611.3,416.59 L613.3,416.27 L615.3,415.96 L617.3,415.65 L619.3,415.35 L621.3,415.06 L623.3,414.78 L625.3,414.5 L627.3,414.23 L629.3,413.96 L631.3,413.7 L633.3,413.44 L635.3,413.18 L637.3,412.93 L639.3,412.69 L641.3,412.44 L643.3,412.2 L645.3,411.97 L647.3,411.74 L649.3,411.52 L651.3,411.3 L653.3,411.08 L655.3,410.87 L657.3,410.67 L659.3,410.47 L661.3,410.28 L663.3,410.08 L665.3,409.9 L667.3,409.72 L669.3,409.54 L671.3,409.37 L673.3,409.2 L673.3,451.5 L671.3,451.52 L669.3,451.55 L667.3,451.58 L665.3,451.61 L663.3,451.64 L661.3,451.68 L659.3,451.71 L657.3,451.75 L655.3,451.8 L653.3,451.84 L651.3,451.89 L649.3,451.94 L647.3,451.99 L645.3,452.04 L643.3,452.1 L641.3,452.15 L639.3,452.21 L637.3,452.27 L635.3,452.33 L633.3,452.39 L631.3,452.46 L629.3,452.52 L627.3,452.59 L625.3,452.66 L623.3,452.72 L621.3,452.79 L619.3,452.86 L617.3,452.93 L615.3,453.01 L613.3,453.08 L611.3,453.15 L609.3,453.23 L607.3,453.3 L605.3,453.39 L603.3,453.47 L601.3,453.56 L599.3,453.66 L597.3,453.76 L595.3,453.86 L593.3,453.97 L591.3,454.08 L589.3,454.19 L587.3,454.3 L585.3,454.42 L583.3,454.54 L581.3,454.66 L579.3,454.79 L577.3,454.91 L575.3,455.04 L573.3,455.17 L571.3,455.3 L569.3,455.43 L567.3,455.56 L565.3,455.69 L563.3,455.83 L561.3,455.96 L559.3,456.09 L557.3,456.22 L555.3,456.36 L553.3,456.49 L551.3,456.62 L549.3,456.74 L547.3,456.87 L545.3,457 L543.3,457.12 L541.3,457.25 L539.3,457.37 L537.3,457.5 L535.3,457.62 L533.3,457.75 L531.3,457.87 L529.3,458 L527.3,458.13 L525.3,458.26 L523.3,458.39 L521.3,458.52 L519.3,458.65 L517.3,458.79 L515.3,458.93 L513.3,459.07 L511.3,459.21 L509.3,459.36 L507.3,459.51 L505.3,459.67 L503.3,459.83 L501.3,459.99 L499.3,460.16 L497.3,460.33 L495.3,460.51 L493.3,460.69 L491.3,460.88 L489.3,461.07 L487.3,461.28 L485.3,461.52 L483.3,461.77 L481.3,462.04 L479.3,462.32 L477.3,462.6 L475.3,462.88 L473.3,463.16 L471.3,463.43 L469.3,463.69 L467.3,463.94 L465.3,464.2 L463.3,464.45 L461.3,464.7 L459.3,464.95 L457.3,465.21 L455.3,465.48 L453.3,465.75 L451.3,466.02 L449.3,466.29 L447.3,466.55 L445.3,466.82 L443.3,467.1 L441.3,467.38 L439.3,467.68 L437.3,467.99 L435.3,468.32 L433.3,468.67 L431.3,469.04 L429.3,469.43 L427.3,469.84 L425.3,470.28 L423.3,470.74 L421.3,471.25 L419.3,471.81 L417.3,472.43 L415.3,473.11 L413.3,473.88 L411.3,474.88 L409.3,476.14 L407.3,477.58 L405.3,479.1 Z" fill="rgba(20,174,179,0.38)" stroke="none"/>
<path d="M398.6,498.3 L405.3,479.1 L407.3,475.82 L409.3,474.06 L411.3,472.69 L413.31,471.52 L415.31,470.49 L417.31,469.56 L419.31,468.71 L421.31,467.91 L423.31,467.16 L425.32,466.45 L427.32,465.77 L429.32,465.12 L431.32,464.5 L433.32,463.9 L435.32,463.33 L437.32,462.77 L439.33,462.23 L441.33,461.7 L443.33,461.19 L445.33,460.7 L447.33,460.21 L449.33,459.74 L451.34,459.27 L453.34,458.82 L455.34,458.37 L457.34,457.94 L459.34,457.51 L461.34,457.09 L463.34,456.68 L465.35,456.27 L467.35,455.88 L469.35,455.48 L471.35,455.1 L473.35,454.72 L475.35,454.34 L477.36,453.97 L479.36,453.61 L481.36,453.25 L483.36,452.89 L485.36,452.54 L487.36,452.2 L489.36,451.86 L491.37,451.52 L493.37,451.18 L495.37,450.85 L497.37,450.53 L499.37,450.21 L501.37,449.89 L503.38,449.57 L505.38,449.26 L507.38,448.95 L509.38,448.64 L511.38,448.33 L513.38,448.03 L515.38,447.74 L517.39,447.44 L519.39,447.15 L521.39,446.86 L523.39,446.57 L525.39,446.28 L527.39,446 L529.4,445.72 L531.4,445.44 L533.4,445.16 L535.4,444.89" fill="none" stroke="#14AEB3" stroke-width="2.6" stroke-linecap="butt" stroke-linejoin="round"/>
<path d="M535.4,444.89 L537.41,444.61 L539.42,444.34 L541.43,444.07 L543.44,443.81 L545.45,443.54 L547.46,443.28 L549.47,443.01 L551.48,442.75 L553.49,442.5 L555.5,442.24 L557.51,441.98 L559.53,441.73 L561.54,441.48 L563.55,441.23 L565.56,440.98 L567.57,440.74 L569.58,440.49 L571.59,440.25 L573.6,440 L575.61,439.76 L577.62,439.52 L579.63,439.29 L581.64,439.05 L583.65,438.81 L585.66,438.58 L587.67,438.35 L589.68,438.12 L591.69,437.88 L593.7,437.66 L595.71,437.43 L597.72,437.2 L599.73,436.98 L601.74,436.75 L603.76,436.53 L605.77,436.31 L607.78,436.09 L609.79,435.87 L611.8,435.65 L613.81,435.43 L615.82,435.21 L617.83,435 L619.84,434.78 L621.85,434.57 L623.86,434.36 L625.87,434.15 L627.88,433.93 L629.89,433.73 L631.9,433.52 L633.91,433.31 L635.92,433.1 L637.93,432.9 L639.94,432.69 L641.95,432.49 L643.96,432.28 L645.97,432.08 L647.99,431.88 L650,431.68 L652.01,431.48 L654.02,431.28 L656.03,431.08 L658.04,430.88 L660.05,430.69 L662.06,430.49 L664.07,430.29 L666.08,430.1 L668.09,429.91 L670.1,429.71" fill="none" stroke="#14AEB3" stroke-width="2.6" stroke-dasharray="4.6 11.1" stroke-dashoffset="-1.3" stroke-linecap="round" stroke-linejoin="round"/>
<polygon points="535.4,439.1 539.9,444.6 535.4,450.1 530.9,444.6" fill="#14AEB3"/>
<line x1="438" y1="476.1" x2="458.5" y2="476.1" stroke="#E8706A" stroke-width="2.4"/>
<polygon points="448.2,472.67 451.4,478.22 445,478.22" fill="#E8706A"/>
<line x1="438" y1="488.7" x2="458.5" y2="488.7" stroke="#14AEB3" stroke-width="2.4"/>
<polygon points="448.2,486.1 449.5,488.7 448.2,491.3 446.9,488.7" fill="#14AEB3"/>
<text x="467.4" y="479.9" font-size="10.55" text-anchor="start" font-weight="normal" fill="#000">Crocodylia, Public, rarefaction + extrapolation</text>
<text x="467.4" y="492.8" font-size="10.55" text-anchor="start" font-weight="normal" fill="#000">Crocodylia, All, rarefaction + extrapolation</text>
<line x1="398.4" y1="501.2" x2="398.4" y2="508" stroke="#222" stroke-width="1.1"/>
<text x="398.4" y="524.7" font-size="10.4" text-anchor="middle" font-weight="normal" fill="#000">0</text>
<line x1="447.04" y1="501.2" x2="447.04" y2="508" stroke="#222" stroke-width="1.1"/>
<text x="447.04" y="524.7" font-size="10.4" text-anchor="middle" font-weight="normal" fill="#000">50</text>
<line x1="495.68" y1="501.2" x2="495.68" y2="508" stroke="#222" stroke-width="1.1"/>
<text x="495.68" y="524.7" font-size="10.4" text-anchor="middle" font-weight="normal" fill="#000">100</text>
<line x1="544.32" y1="501.2" x2="544.32" y2="508" stroke="#222" stroke-width="1.1"/>
<text x="544.32" y="524.7" font-size="10.4" text-anchor="middle" font-weight="normal" fill="#000">150</text>
<line x1="592.96" y1="501.2" x2="592.96" y2="508" stroke="#222" stroke-width="1.1"/>
<text x="592.96" y="524.7" font-size="10.4" text-anchor="middle" font-weight="normal" fill="#000">200</text>
<line x1="641.6" y1="501.2" x2="641.6" y2="508" stroke="#222" stroke-width="1.1"/>
<text x="641.6" y="524.7" font-size="10.4" text-anchor="middle" font-weight="normal" fill="#000">250</text>
<line x1="381.2" y1="490" x2="388" y2="490" stroke="#222" stroke-width="1.1"/>
<text x="373.8" y="490" font-size="10.4" text-anchor="middle" font-weight="normal" fill="#000" transform="rotate(-90 373.8 490)">2</text>
<line x1="381.2" y1="474.82" x2="388" y2="474.82" stroke="#222" stroke-width="1.1"/>
<text x="373.8" y="474.82" font-size="10.4" text-anchor="middle" font-weight="normal" fill="#000" transform="rotate(-90 373.8 474.82)">4</text>
<line x1="381.2" y1="459.64" x2="388" y2="459.64" stroke="#222" stroke-width="1.1"/>
<text x="373.8" y="459.64" font-size="10.4" text-anchor="middle" font-weight="normal" fill="#000" transform="rotate(-90 373.8 459.64)">6</text>
<line x1="381.2" y1="444.46" x2="388" y2="444.46" stroke="#222" stroke-width="1.1"/>
<text x="373.8" y="444.46" font-size="10.4" text-anchor="middle" font-weight="normal" fill="#000" transform="rotate(-90 373.8 444.46)">8</text>
<line x1="381.2" y1="429.28" x2="388" y2="429.28" stroke="#222" stroke-width="1.1"/>
<line x1="381.2" y1="414.1" x2="388" y2="414.1" stroke="#222" stroke-width="1.1"/>
<text x="373.8" y="414.1" font-size="10.4" text-anchor="middle" font-weight="normal" fill="#000" transform="rotate(-90 373.8 414.1)">12</text>
<rect x="388" y="405.8" width="296.4" height="95.4" fill="none" stroke="#222" stroke-width="1.4"/>
<text x="400.6" y="423.5" font-size="17.8" text-anchor="middle" font-weight="bold" fill="#000">h</text>
<path d="M64.3,630.52 L66.3,627.67 L68.29,624.99 L70.29,622.5 L72.28,620.39 L74.28,618.39 L76.27,616.5 L78.27,614.7 L80.26,612.99 L82.26,611.4 L84.26,609.88 L86.25,608.43 L88.25,607.03 L90.24,605.69 L92.24,604.41 L94.23,603.17 L96.23,601.97 L98.22,600.84 L100.22,599.77 L102.22,598.73 L104.21,597.73 L106.21,596.75 L108.2,595.81 L110.2,594.9 L112.19,594.01 L114.19,593.15 L116.18,592.32 L118.18,591.5 L120.18,590.71 L122.17,589.94 L124.17,589.19 L126.16,588.46 L128.16,587.74 L130.15,587.04 L132.15,586.25 L134.15,585.48 L136.14,584.73 L138.14,583.99 L140.13,583.26 L142.13,582.55 L144.12,581.85 L146.12,581.16 L148.11,580.48 L150.11,579.82 L152.11,579.17 L154.1,578.52 L156.1,577.89 L158.09,577.26 L160.09,576.65 L162.08,576.04 L164.08,575.45 L166.07,574.86 L168.07,574.28 L170.07,573.71 L172.06,573.22 L174.06,572.74 L176.05,572.27 L178.05,571.79 L180.04,571.31 L182.04,570.84 L184.03,570.37 L186.03,569.91 L188.03,569.46 L190.02,569.01 L192.02,568.57 L194.01,568.13 L196.01,567.7 L198,567.27 L200,566.85 L201.99,566.43 L203.99,566.02 L205.99,565.61 L207.98,565.21 L209.98,564.81 L211.97,564.42 L213.97,564.03 L215.96,563.65 L217.96,563.28 L219.95,562.91 L221.95,562.55 L223.95,562.19 L225.94,561.83 L227.94,561.48 L229.93,561.13 L231.93,560.79 L233.92,560.45 L235.92,560.11 L237.92,559.77 L239.91,559.44 L241.91,559.11 L243.9,558.79 L245.9,558.47 L247.89,558.15 L249.89,557.83 L251.88,557.5 L253.88,557.17 L255.88,556.85 L257.87,556.52 L259.87,556.2 L261.86,555.89 L263.86,555.57 L265.85,555.26 L267.85,554.95 L269.84,554.64 L271.84,554.33 L273.84,554.03 L275.83,553.73 L277.83,553.43 L279.82,553.13 L281.82,552.84 L283.81,552.55 L285.81,552.25 L287.8,551.97 L289.8,551.68 L289.8,572.08 L287.8,572.2 L285.81,572.31 L283.81,572.43 L281.82,572.56 L279.82,572.68 L277.83,572.81 L275.83,572.94 L273.84,573.07 L271.84,573.2 L269.84,573.33 L267.85,573.47 L265.85,573.61 L263.86,573.75 L261.86,573.9 L259.87,574.05 L257.87,574.2 L255.88,574.35 L253.88,574.5 L251.88,574.66 L249.89,574.82 L247.89,575 L245.9,575.19 L243.9,575.37 L241.91,575.56 L239.91,575.75 L237.92,575.95 L235.92,576.14 L233.92,576.35 L231.93,576.55 L229.93,576.76 L227.94,576.97 L225.94,577.18 L223.95,577.4 L221.95,577.63 L219.95,577.85 L217.96,578.08 L215.96,578.32 L213.97,578.55 L211.97,578.78 L209.98,579.02 L207.98,579.26 L205.99,579.5 L203.99,579.75 L201.99,580.01 L200,580.26 L198,580.53 L196.01,580.8 L194.01,581.07 L192.02,581.35 L190.02,581.64 L188.03,581.93 L186.03,582.23 L184.03,582.53 L182.04,582.84 L180.04,583.15 L178.05,583.48 L176.05,583.82 L174.06,584.17 L172.06,584.54 L170.07,584.91 L168.07,585.22 L166.07,585.53 L164.08,585.85 L162.08,586.17 L160.09,586.51 L158.09,586.86 L156.1,587.21 L154.1,587.57 L152.11,587.95 L150.11,588.33 L148.11,588.73 L146.12,589.14 L144.12,589.56 L142.13,589.99 L140.13,590.43 L138.14,590.89 L136.14,591.36 L134.15,591.84 L132.15,592.34 L130.15,592.86 L128.16,593.49 L126.16,594.14 L124.17,594.81 L122.17,595.5 L120.18,596.22 L118.18,596.95 L116.18,597.7 L114.19,598.47 L112.19,599.27 L110.2,600.1 L108.2,600.95 L106.21,601.83 L104.21,602.75 L102.22,603.69 L100.22,604.67 L98.22,605.68 L96.23,606.72 L94.23,607.77 L92.24,608.87 L90.24,610.02 L88.25,611.21 L86.25,612.47 L84.26,613.78 L82.26,615.16 L80.26,616.61 L78.27,618.09 L76.27,619.65 L74.28,621.31 L72.28,623.06 L70.29,624.93 L68.29,626.67 L66.3,628.52 L64.3,630.52 Z" fill="rgba(232,112,106,0.33)" stroke="none"/>
<path d="M64.3,630.52 L66.31,628.08 L68.33,625.8 L70.34,623.66 L72.35,621.66 L74.36,619.77 L76.38,617.99 L78.39,616.3 L80.4,614.69 L82.41,613.17 L84.42,611.71 L86.44,610.32 L88.45,608.99 L90.46,607.72 L92.47,606.5 L94.49,605.32 L96.5,604.2 L98.51,603.11 L100.53,602.06 L102.54,601.05 L104.55,600.07 L106.56,599.13 L108.57,598.22 L110.59,597.33 L112.6,596.47 L114.61,595.64 L116.62,594.83 L118.64,594.05 L120.65,593.29 L122.66,592.54 L124.67,591.82 L126.69,591.12 L128.7,590.43 L130.71,589.77 L132.72,589.11 L134.74,588.48 L136.75,587.86 L138.76,587.25 L140.78,586.66 L142.79,586.08 L144.8,585.51 L146.81,584.96 L148.82,584.42 L150.84,583.89 L152.85,583.37 L154.86,582.86 L156.88,582.36 L158.89,581.87 L160.9,581.39 L162.91,580.92 L164.93,580.45 L166.94,580 L168.95,579.55 L170.96,579.12 L172.97,578.69 L174.99,578.26 L177,577.85" fill="none" stroke="#E8706A" stroke-width="2.6" stroke-linecap="butt" stroke-linejoin="round"/>
<path d="M177,577.85 L179.01,577.44 L181.02,577.04 L183.03,576.65 L185.04,576.26 L187.04,575.88 L189.05,575.5 L191.06,575.13 L193.07,574.77 L195.08,574.41 L197.09,574.06 L199.1,573.71 L201.11,573.37 L203.12,573.03 L205.12,572.7 L207.13,572.37 L209.14,572.05 L211.15,571.73 L213.16,571.41 L215.17,571.1 L217.18,570.8 L219.19,570.5 L221.2,570.2 L223.21,569.9 L225.21,569.61 L227.22,569.33 L229.23,569.04 L231.24,568.76 L233.25,568.49 L235.26,568.22 L237.27,567.95 L239.28,567.68 L241.29,567.42 L243.29,567.16 L245.3,566.9 L247.31,566.65 L249.32,566.4 L251.33,566.15 L253.34,565.9 L255.35,565.66 L257.36,565.42 L259.37,565.18 L261.38,564.95 L263.38,564.72 L265.39,564.49 L267.4,564.26 L269.41,564.04 L271.42,563.81 L273.43,563.59 L275.44,563.37 L277.45,563.16 L279.46,562.95 L281.46,562.73 L283.47,562.52 L285.48,562.32 L287.49,562.11 L289.5,561.91" fill="none" stroke="#E8706A" stroke-width="2.6" stroke-dasharray="4.6 11.1" stroke-dashoffset="-1.3" stroke-linecap="round" stroke-linejoin="round"/>
<polygon points="177,570.56 183.1,581.13 170.9,581.13" fill="#E8706A"/>
<path d="M64.3,630.76 L66.3,628.5 L68.3,626.4 L70.3,624.43 L72.3,622.58 L74.3,620.83 L76.3,619.18 L78.3,617.62 L80.3,616.02 L82.3,614.5 L84.3,613.05 L86.3,611.66 L88.3,610.34 L90.3,609.07 L92.3,607.85 L94.3,606.68 L96.3,605.56 L98.3,604.47 L100.3,603.43 L102.3,602.42 L104.3,601.44 L106.3,600.5 L108.3,599.59 L110.3,598.71 L112.3,597.85 L114.3,597.02 L116.3,596.21 L118.3,595.43 L120.3,594.67 L122.3,593.93 L124.3,593.21 L126.3,592.5 L128.3,591.82 L130.3,591.15 L132.3,590.5 L134.3,589.87 L136.3,589.25 L138.3,588.64 L140.3,588.05 L142.3,587.47 L144.3,586.9 L146.3,586.35 L148.3,585.81 L150.3,585.28 L152.3,584.76 L154.3,584.25 L156.3,583.75 L158.3,583.26 L160.3,582.78 L162.3,582.31 L164.3,581.85 L166.3,581.39 L168.3,580.95 L170.3,580.51 L172.3,580.08 L174.3,579.66 L176.3,579.24 L178.3,578.83 L180.3,578.43 L182.3,578.04 L184.3,577.65 L186.3,577.24 L188.3,576.67 L190.3,576.11 L192.3,575.55 L194.3,575 L196.3,574.45 L198.3,573.9 L200.3,573.36 L202.3,572.83 L204.3,572.3 L206.3,571.77 L208.3,571.25 L210.3,570.74 L212.3,570.22 L214.3,569.71 L216.3,569.29 L218.3,568.93 L220.3,568.56 L222.3,568.2 L224.3,567.85 L226.3,567.49 L228.3,567.14 L230.3,566.8 L232.3,566.46 L234.3,566.11 L236.3,565.78 L238.3,565.44 L240.3,565.11 L242.3,564.78 L244.3,564.46 L246.3,564.13 L248.3,563.81 L250.3,563.49 L252.3,563.17 L254.3,562.85 L256.3,562.54 L258.3,562.23 L260.3,561.92 L262.3,561.61 L264.3,561.31 L266.3,561.01 L268.3,560.71 L270.3,560.41 L272.3,560.11 L274.3,559.82 L276.3,559.53 L278.3,559.24 L280.3,558.95 L282.3,558.67 L284.3,558.38 L286.3,558.1 L288.3,557.82 L290.3,557.54 L292.3,557.27 L294.3,557.01 L296.3,556.74 L298.3,556.48 L300.3,556.22 L302.3,555.96 L304.3,555.7 L306.3,555.44 L308.3,555.19 L310.3,554.93 L312.3,554.68 L314.3,554.43 L316.3,554.18 L318.3,553.93 L320.3,553.69 L322.3,553.44 L324.3,553.2 L326.3,552.96 L328.3,552.71 L330.3,552.48 L332.3,552.24 L334.3,552 L336.3,551.76 L338.3,551.53 L339.5,551.39 L339.5,571.39 L338.3,571.45 L336.3,571.55 L334.3,571.65 L332.3,571.76 L330.3,571.86 L328.3,571.97 L326.3,572.08 L324.3,572.18 L322.3,572.29 L320.3,572.41 L318.3,572.52 L316.3,572.63 L314.3,572.75 L312.3,572.87 L310.3,572.99 L308.3,573.11 L306.3,573.23 L304.3,573.35 L302.3,573.48 L300.3,573.6 L298.3,573.73 L296.3,573.86 L294.3,573.99 L292.3,574.13 L290.3,574.26 L288.3,574.4 L286.3,574.53 L284.3,574.67 L282.3,574.81 L280.3,574.95 L278.3,575.09 L276.3,575.23 L274.3,575.38 L272.3,575.53 L270.3,575.68 L268.3,575.83 L266.3,575.98 L264.3,576.14 L262.3,576.3 L260.3,576.46 L258.3,576.62 L256.3,576.79 L254.3,576.96 L252.3,577.13 L250.3,577.3 L248.3,577.48 L246.3,577.66 L244.3,577.85 L242.3,578.06 L240.3,578.26 L238.3,578.47 L236.3,578.68 L234.3,578.89 L232.3,579.11 L230.3,579.33 L228.3,579.55 L226.3,579.78 L224.3,580.01 L222.3,580.24 L220.3,580.48 L218.3,580.71 L216.3,580.96 L214.3,581.21 L212.3,581.46 L210.3,581.71 L208.3,581.97 L206.3,582.23 L204.3,582.5 L202.3,582.77 L200.3,582.99 L198.3,583.2 L196.3,583.42 L194.3,583.64 L192.3,583.87 L190.3,584.11 L188.3,584.34 L186.3,584.59 L184.3,584.84 L182.3,585.09 L180.3,585.35 L178.3,585.62 L176.3,585.89 L174.3,586.17 L172.3,586.45 L170.3,586.74 L168.3,587.14 L166.3,587.56 L164.3,587.99 L162.3,588.42 L160.3,588.86 L158.3,589.31 L156.3,589.77 L154.3,590.24 L152.3,590.72 L150.3,591.2 L148.3,591.7 L146.3,592.2 L144.3,592.72 L142.3,593.24 L140.3,593.78 L138.3,594.33 L136.3,594.89 L134.3,595.47 L132.3,596.05 L130.3,596.65 L128.3,597.26 L126.3,597.88 L124.3,598.52 L122.3,599.17 L120.3,599.84 L118.3,600.53 L116.3,601.24 L114.3,601.97 L112.3,602.72 L110.3,603.49 L108.3,604.28 L106.3,605.1 L104.3,605.95 L102.3,606.83 L100.3,607.73 L98.3,608.67 L96.3,609.62 L94.3,610.59 L92.3,611.6 L90.3,612.65 L88.3,613.74 L86.3,614.88 L84.3,616.08 L82.3,617.33 L80.3,618.65 L78.3,619.85 L76.3,621.1 L74.3,622.43 L72.3,623.85 L70.3,625.38 L68.3,627.03 L66.3,628.82 L64.3,630.76 Z" fill="rgba(20,174,179,0.38)" stroke="none"/>
<path d="M64.3,630.76 L66.3,628.54 L68.3,626.48 L70.3,624.55 L72.29,622.74 L74.29,621.03 L76.29,619.42 L78.29,617.9 L80.29,616.45 L82.29,615.08 L84.29,613.76 L86.28,612.51 L88.28,611.31 L90.28,610.15 L92.28,609.05 L94.28,607.98 L96.28,606.96 L98.28,605.97 L100.27,605.01 L102.27,604.09 L104.27,603.2 L106.27,602.33 L108.27,601.49 L110.27,600.68 L112.27,599.89 L114.26,599.12 L116.26,598.38 L118.26,597.65 L120.26,596.95 L122.26,596.26 L124.26,595.58 L126.26,594.93 L128.25,594.29 L130.25,593.67 L132.25,593.06 L134.25,592.46 L136.25,591.87 L138.25,591.3 L140.24,590.75 L142.24,590.2 L144.24,589.66 L146.24,589.14 L148.24,588.62 L150.24,588.12 L152.24,587.62 L154.23,587.13 L156.23,586.66 L158.23,586.19 L160.23,585.73 L162.23,585.27 L164.23,584.83 L166.23,584.39 L168.22,583.96 L170.22,583.54 L172.22,583.12 L174.22,582.71 L176.22,582.31 L178.22,581.91 L180.22,581.52 L182.21,581.14 L184.21,580.76 L186.21,580.38 L188.21,580.02 L190.21,579.65 L192.21,579.3 L194.21,578.94 L196.2,578.59 L198.2,578.25 L200.2,577.91 L202.2,577.58" fill="none" stroke="#14AEB3" stroke-width="2.6" stroke-linecap="butt" stroke-linejoin="round"/>
<path d="M202.2,577.58 L204.19,577.25 L206.18,576.92 L208.17,576.6 L210.16,576.29 L212.15,575.98 L214.14,575.67 L216.13,575.36 L218.12,575.06 L220.11,574.76 L222.1,574.47 L224.09,574.18 L226.07,573.89 L228.06,573.61 L230.05,573.33 L232.04,573.05 L234.03,572.77 L236.02,572.5 L238.01,572.23 L240,571.97 L241.99,571.7 L243.98,571.44 L245.97,571.19 L247.96,570.93 L249.95,570.68 L251.94,570.43 L253.93,570.18 L255.92,569.94 L257.91,569.7 L259.9,569.46 L261.89,569.22 L263.88,568.98 L265.87,568.75 L267.86,568.52 L269.84,568.29 L271.83,568.06 L273.82,567.84 L275.81,567.62 L277.8,567.39 L279.79,567.18 L281.78,566.96 L283.77,566.74 L285.76,566.53 L287.75,566.32 L289.74,566.11 L291.73,565.9 L293.72,565.7 L295.71,565.49 L297.7,565.29 L299.69,565.09 L301.68,564.89 L303.67,564.69 L305.66,564.5 L307.65,564.3 L309.64,564.11 L311.63,563.92 L313.61,563.73 L315.6,563.54 L317.59,563.36 L319.58,563.17 L321.57,562.99 L323.56,562.8 L325.55,562.62 L327.54,562.44 L329.53,562.27 L331.52,562.09 L333.51,561.91 L335.5,561.74" fill="none" stroke="#14AEB3" stroke-width="2.6" stroke-dasharray="4.6 11.1" stroke-dashoffset="-1.3" stroke-linecap="round" stroke-linejoin="round"/>
<polygon points="202.2,572.4 206.7,577.9 202.2,583.4 197.7,577.9" fill="#14AEB3"/>
<line x1="132.15" y1="596.9" x2="151.05" y2="596.9" stroke="#111" stroke-width="1.5" stroke-dasharray="2.7 5.3" stroke-linecap="round"/>
<line x1="130.9" y1="609.9" x2="151.9" y2="609.9" stroke="#E8706A" stroke-width="2.4"/>
<polygon points="141.5,606.07 144.7,611.62 138.3,611.62" fill="#E8706A"/>
<line x1="130.9" y1="622.2" x2="151.9" y2="622.2" stroke="#14AEB3" stroke-width="2.4"/>
<polygon points="141.5,619.6 142.8,622.2 141.5,624.8 140.2,622.2" fill="#14AEB3"/>
<text x="160.4" y="600.6" font-size="10.55" text-anchor="start" font-weight="normal" fill="#000">Minimum species richness/ACE (All)</text>
<text x="160.4" y="613.6" font-size="10.55" text-anchor="start" font-weight="normal" fill="#000">Aves, Public, rarefaction + extrapolation</text>
<text x="160.4" y="625.9" font-size="10.55" text-anchor="start" font-weight="normal" fill="#000">Aves, All, rarefaction + extrapolation</text>
<path d="M64.3,630.4 L67.3,621.1 L70.8,608.2 L73.7,599.5 L76.6,596.5 L80.1,598.9 L83,596 L86.5,590.1 L91.2,583.7 L95.3,579.6 L100,579.6 L104,580.2 L108.7,576.7 L113.4,576.1 L118.1,572 L122.7,570.3 L126.2,567.9 L132.1,569.7 L136.7,567.3 L142,566.2 L146.7,564.3 L158.4,561.4 L170,559.6 L181.7,556.7 L199.2,553.2" fill="none" stroke="#111" stroke-width="1.5" stroke-dasharray="2.7 5.3" stroke-linecap="round" stroke-linejoin="round"/>
<line x1="64.2" y1="634.9" x2="64.2" y2="641.7" stroke="#222" stroke-width="1.1"/>
<text x="64.2" y="658.4" font-size="10.4" text-anchor="middle" font-weight="normal" fill="#000">0</text>
<line x1="105.76" y1="634.9" x2="105.76" y2="641.7" stroke="#222" stroke-width="1.1"/>
<text x="105.76" y="658.4" font-size="10.4" text-anchor="middle" font-weight="normal" fill="#000">200</text>
<line x1="147.32" y1="634.9" x2="147.32" y2="641.7" stroke="#222" stroke-width="1.1"/>
<text x="147.32" y="658.4" font-size="10.4" text-anchor="middle" font-weight="normal" fill="#000">400</text>
<line x1="188.88" y1="634.9" x2="188.88" y2="641.7" stroke="#222" stroke-width="1.1"/>
<text x="188.88" y="658.4" font-size="10.4" text-anchor="middle" font-weight="normal" fill="#000">600</text>
<line x1="230.44" y1="634.9" x2="230.44" y2="641.7" stroke="#222" stroke-width="1.1"/>
<text x="230.44" y="658.4" font-size="10.4" text-anchor="middle" font-weight="normal" fill="#000">800</text>
<line x1="272" y1="634.9" x2="272" y2="641.7" stroke="#222" stroke-width="1.1"/>
<text x="272" y="658.4" font-size="10.4" text-anchor="middle" font-weight="normal" fill="#000">1000</text>
<line x1="313.56" y1="634.9" x2="313.56" y2="641.7" stroke="#222" stroke-width="1.1"/>
<text x="313.56" y="658.4" font-size="10.4" text-anchor="middle" font-weight="normal" fill="#000">1200</text>
<line x1="46.9" y1="631.3" x2="53.7" y2="631.3" stroke="#222" stroke-width="1.1"/>
<text x="39.5" y="631.3" font-size="10.4" text-anchor="middle" font-weight="normal" fill="#000" transform="rotate(-90 39.5 631.3)">0</text>
<line x1="46.9" y1="616.6" x2="53.7" y2="616.6" stroke="#222" stroke-width="1.1"/>
<line x1="46.9" y1="601.9" x2="53.7" y2="601.9" stroke="#222" stroke-width="1.1"/>
<text x="39.5" y="601.9" font-size="10.4" text-anchor="middle" font-weight="normal" fill="#000" transform="rotate(-90 39.5 601.9)">40</text>
<line x1="46.9" y1="587.2" x2="53.7" y2="587.2" stroke="#222" stroke-width="1.1"/>
<line x1="46.9" y1="572.5" x2="53.7" y2="572.5" stroke="#222" stroke-width="1.1"/>
<text x="39.5" y="572.5" font-size="10.4" text-anchor="middle" font-weight="normal" fill="#000" transform="rotate(-90 39.5 572.5)">80</text>
<line x1="46.9" y1="557.8" x2="53.7" y2="557.8" stroke="#222" stroke-width="1.1"/>
<line x1="46.9" y1="543.1" x2="53.7" y2="543.1" stroke="#222" stroke-width="1.1"/>
<text x="39.5" y="543.1" font-size="10.4" text-anchor="middle" font-weight="normal" fill="#000" transform="rotate(-90 39.5 543.1)">120</text>
<rect x="53.7" y="539.4" width="296.7" height="95.5" fill="none" stroke="#222" stroke-width="1.4"/>
<text x="64.1" y="558.4" font-size="17.8" text-anchor="middle" font-weight="bold" fill="#000">i</text>
<path d="M406.1,613.39 L408.1,610.48 L410.1,608.03 L412.1,605.91 L414.1,604.01 L416.1,602.29 L418.1,600.71 L420.1,599.25 L422.1,597.89 L424.1,596.6 L426.1,595.39 L428.1,594.24 L430.1,593.15 L432.1,592.11 L434.1,591.1 L436.1,590.14 L438.1,589.22 L440.1,588.32 L442.1,587.46 L444.1,586.62 L446.1,585.81 L448.1,585.03 L450.1,584.26 L452.1,583.52 L454.1,582.8 L456.1,582.09 L458.1,581.4 L460.1,580.73 L462.1,580.07 L464.1,579.43 L466.1,578.8 L468.1,578.18 L470.1,577.57 L472.1,576.98 L474.1,576.4 L476.1,575.83 L478.1,575.27 L480.1,574.71 L482.1,574.17 L484.1,573.64 L486.1,573.11 L488.1,572.6 L490.1,572.09 L492.1,571.59 L494.1,571.1 L496.1,570.61 L498.1,570.13 L500.1,569.66 L502.1,569.19 L504.1,568.73 L506.1,568.28 L508.1,567.83 L510.1,567.39 L512.1,566.95 L514.1,566.52 L516.1,566.09 L518.1,565.67 L520.1,565.25 L522.1,564.84 L524.1,564.43 L526.1,564.03 L528.1,563.63 L530.1,563.24 L532.1,562.85 L534.1,562.46 L536.1,562.08 L538.1,561.7 L540.1,561.32 L542.1,560.95 L544.1,560.58 L546.1,560.22 L548.1,559.86 L550.1,559.5 L552.1,559.15 L554.1,558.8 L556.1,558.45 L558.1,558.1 L560.1,557.76 L562.1,557.42 L564.1,557.09 L566.1,556.75 L568.1,556.42 L570.1,556.09 L572.1,555.77 L574.1,555.45 L576.1,555.13 L578.1,554.81 L580.1,554.49 L582.1,554.18 L584.1,553.87 L586.1,553.56 L588.1,553.25 L590.1,552.95 L592.1,552.65 L594.1,552.35 L596.1,552.05 L598.1,551.76 L600.1,551.46 L602.1,551.17 L604.1,550.88 L606.1,550.59 L608.1,550.31 L610.1,550.02 L612.1,549.74 L614.1,549.46 L616.1,549.18 L618.1,548.91 L620.1,548.63 L622.1,548.36 L624.1,548.09 L626.1,547.82 L628.1,547.55 L630.1,547.28 L632.1,547.02 L634.1,546.75 L636.1,546.49 L638.1,546.23 L640.1,545.97 L642.1,545.72 L644.1,545.46 L646.1,545.21 L648.1,544.95 L650.1,544.7 L652.1,544.45 L654.1,544.2 L656.1,543.95 L656.1,543.95 L656.1,573.71 L656.1,573.71 L654.1,573.73 L652.1,573.76 L650.1,573.78 L648.1,573.8 L646.1,573.83 L644.1,573.85 L642.1,573.87 L640.1,573.9 L638.1,573.94 L636.1,573.98 L634.1,574.02 L632.1,574.06 L630.1,574.1 L628.1,574.14 L626.1,574.18 L624.1,574.22 L622.1,574.26 L620.1,574.3 L618.1,574.34 L616.1,574.38 L614.1,574.42 L612.1,574.46 L610.1,574.5 L608.1,574.54 L606.1,574.58 L604.1,574.62 L602.1,574.66 L600.1,574.7 L598.1,574.82 L596.1,574.95 L594.1,575.08 L592.1,575.21 L590.1,575.34 L588.1,575.47 L586.1,575.6 L584.1,575.73 L582.1,575.86 L580.1,575.99 L578.1,576.12 L576.1,576.25 L574.1,576.38 L572.1,576.51 L570.1,576.64 L568.1,576.77 L566.1,576.9 L564.1,577.03 L562.1,577.16 L560.1,577.29 L558.1,577.42 L556.1,577.55 L554.1,577.68 L552.1,577.81 L550.1,577.94 L548.1,578.07 L546.1,578.2 L544.1,578.33 L542.1,578.46 L540.1,578.6 L538.1,578.74 L536.1,578.87 L534.1,579.01 L532.1,579.15 L530.1,579.29 L528.1,579.42 L526.1,579.63 L524.1,579.92 L522.1,580.21 L520.1,580.5 L518.1,580.79 L516.1,581.07 L514.1,581.36 L512.1,581.65 L510.1,581.94 L508.1,582.23 L506.1,582.52 L504.1,582.81 L502.1,583.1 L500.1,583.39 L498.1,583.66 L496.1,583.93 L494.1,584.21 L492.1,584.48 L490.1,584.75 L488.1,585.03 L486.1,585.3 L484.1,585.57 L482.1,585.85 L480.1,586.12 L478.1,586.39 L476.1,586.67 L474.1,586.94 L472.1,587.21 L470.1,587.49 L468.1,587.94 L466.1,588.4 L464.1,588.87 L462.1,589.33 L460.1,589.8 L458.1,590.26 L456.1,590.72 L454.1,591.19 L452.1,591.65 L450.1,592.12 L448.1,592.58 L446.1,593.04 L444.1,593.72 L442.1,594.66 L440.1,595.59 L438.1,596.53 L436.1,597.47 L434.1,598.4 L432.1,599.34 L430.1,600.27 L428.1,601.21 L426.1,602.15 L424.1,603.08 L422.1,604.02 L420.1,604.95 L418.1,606.34 L416.1,607.75 L414.1,609.16 L412.1,610.57 L410.1,611.98 L408.1,613.39 L406.1,614.8 Z" fill="rgba(232,112,106,0.33)" stroke="none"/>
<path d="M398.7,631.6 L406.1,613.89 L408.12,611.78 L410.13,609.84 L412.15,608.05 L414.17,606.39 L416.18,604.84 L418.2,603.39 L420.22,602.03 L422.23,600.74 L424.25,599.53 L426.27,598.38 L428.28,597.28 L430.3,596.24 L432.32,595.25 L434.33,594.3 L436.35,593.39 L438.37,592.52 L440.38,591.68 L442.4,590.87 L444.42,590.1 L446.43,589.35 L448.45,588.63 L450.47,587.93 L452.48,587.26 L454.5,586.61 L456.52,585.97 L458.53,585.36 L460.55,584.77 L462.57,584.19 L464.58,583.63 L466.6,583.08 L468.62,582.55 L470.63,582.03 L472.65,581.53 L474.67,581.04 L476.68,580.56 L478.7,580.09 L480.72,579.63 L482.73,579.19 L484.75,578.75 L486.77,578.32 L488.78,577.91 L490.8,577.5 L492.82,577.1 L494.83,576.71 L496.85,576.32 L498.87,575.95 L500.88,575.58 L502.9,575.22 L504.92,574.86 L506.93,574.51 L508.95,574.17 L510.97,573.84 L512.98,573.51 L515,573.18 L517.02,572.86 L519.03,572.55 L521.05,572.24 L523.07,571.94 L525.08,571.64 L527.1,571.35" fill="none" stroke="#E8706A" stroke-width="2.6" stroke-linecap="butt" stroke-linejoin="round"/>
<path d="M527.1,571.05 L529.12,570.76 L531.13,570.48 L533.15,570.2 L535.16,569.92 L537.18,569.65 L539.19,569.39 L541.21,569.12 L543.23,568.86 L545.24,568.61 L547.26,568.36 L549.27,568.11 L551.29,567.86 L553.3,567.62 L555.32,567.38 L557.33,567.15 L559.35,566.92 L561.37,566.69 L563.38,566.46 L565.4,566.24 L567.41,566.02 L569.43,565.8 L571.44,565.58 L573.46,565.37 L575.48,565.16 L577.49,564.95 L579.51,564.75 L581.52,564.55 L583.54,564.35 L585.55,564.15 L587.57,563.95 L589.58,563.76 L591.6,563.57 L593.62,563.38 L595.63,563.19 L597.65,563.01 L599.66,562.82 L601.68,562.64 L603.69,562.46 L605.71,562.28 L607.73,562.11 L609.74,561.93 L611.76,561.76 L613.77,561.59 L615.79,561.42 L617.8,561.26 L619.82,561.09 L621.83,560.93 L623.85,560.76 L625.87,560.6 L627.88,560.44 L629.9,560.29 L631.91,560.13 L633.93,559.98 L635.94,559.82 L637.96,559.67 L639.98,559.52 L641.99,559.37 L644.01,559.22 L646.02,559.08 L648.04,558.93 L650.05,558.79 L652.07,558.65 L654.08,558.5 L656.1,558.36" fill="none" stroke="#E8706A" stroke-width="2.6" stroke-dasharray="4.6 11.1" stroke-dashoffset="-1.3" stroke-linecap="round" stroke-linejoin="round"/>
<polygon points="527.1,563.06 533.2,573.63 521,573.63" fill="#E8706A"/>
<path d="M406.1,614.09 L408.1,611.18 L410.1,608.73 L412.1,606.61 L414.1,604.71 L416.1,602.99 L418.1,601.41 L420.1,599.95 L422.1,598.59 L424.1,597.3 L426.1,596.09 L428.1,594.94 L430.1,593.85 L432.1,592.81 L434.1,591.8 L436.1,590.84 L438.1,589.92 L440.1,589.02 L442.1,588.16 L444.1,587.32 L446.1,586.51 L448.1,585.73 L450.1,584.96 L452.1,584.22 L454.1,583.5 L456.1,582.79 L458.1,582.1 L460.1,581.43 L462.1,580.77 L464.1,580.13 L466.1,579.5 L468.1,578.88 L470.1,578.27 L472.1,577.68 L474.1,577.1 L476.1,576.53 L478.1,575.97 L480.1,575.41 L482.1,574.87 L484.1,574.34 L486.1,573.81 L488.1,573.3 L490.1,572.79 L492.1,572.29 L494.1,571.8 L496.1,571.31 L498.1,570.83 L500.1,570.36 L502.1,569.89 L504.1,569.43 L506.1,568.98 L508.1,568.53 L510.1,568.09 L512.1,567.65 L514.1,567.22 L516.1,566.79 L518.1,566.37 L520.1,565.95 L522.1,565.54 L524.1,565.13 L526.1,564.73 L528.1,564.33 L530.1,563.94 L532.1,563.55 L534.1,563.16 L536.1,562.78 L538.1,562.4 L540.1,562.02 L542.1,561.65 L544.1,561.28 L546.1,560.92 L548.1,560.56 L550.1,560.2 L552.1,559.85 L554.1,559.5 L556.1,559.15 L558.1,558.8 L560.1,558.46 L562.1,558.12 L564.1,557.79 L566.1,557.45 L568.1,557.12 L570.1,556.79 L572.1,556.47 L574.1,556.15 L576.1,555.83 L578.1,555.51 L580.1,555.19 L582.1,554.88 L584.1,554.57 L586.1,554.26 L588.1,553.95 L590.1,553.65 L592.1,553.35 L594.1,553.05 L596.1,552.75 L598.1,552.46 L600.1,552.16 L602.1,551.87 L604.1,551.58 L606.1,551.29 L608.1,551.01 L610.1,550.72 L612.1,550.44 L614.1,550.16 L616.1,549.88 L618.1,549.61 L620.1,549.33 L622.1,549.06 L624.1,548.79 L626.1,548.52 L628.1,548.25 L630.1,547.98 L632.1,547.72 L634.1,547.45 L636.1,547.19 L638.1,546.93 L640.1,546.67 L642.1,546.42 L644.1,546.16 L646.1,545.91 L648.1,545.65 L650.1,545.4 L652.1,545.15 L654.1,544.9 L656.1,544.65 L658.1,544.41 L660.1,544.16 L662.1,543.92 L664.1,543.68 L666.1,543.43 L668.1,543.19 L670.1,542.96 L672.1,542.72 L673.5,542.55 L673.5,572.8 L672.1,572.82 L670.1,572.84 L668.1,572.86 L666.1,572.89 L664.1,572.91 L662.1,572.94 L660.1,572.96 L658.1,572.98 L656.1,573.01 L654.1,573.03 L652.1,573.06 L650.1,573.08 L648.1,573.1 L646.1,573.13 L644.1,573.15 L642.1,573.17 L640.1,573.2 L638.1,573.24 L636.1,573.28 L634.1,573.32 L632.1,573.36 L630.1,573.4 L628.1,573.44 L626.1,573.48 L624.1,573.52 L622.1,573.56 L620.1,573.6 L618.1,573.64 L616.1,573.68 L614.1,573.72 L612.1,573.76 L610.1,573.8 L608.1,573.84 L606.1,573.88 L604.1,573.92 L602.1,573.96 L600.1,574 L598.1,574.12 L596.1,574.25 L594.1,574.38 L592.1,574.51 L590.1,574.64 L588.1,574.77 L586.1,574.9 L584.1,575.03 L582.1,575.16 L580.1,575.29 L578.1,575.42 L576.1,575.55 L574.1,575.68 L572.1,575.81 L570.1,575.94 L568.1,576.07 L566.1,576.2 L564.1,576.33 L562.1,576.46 L560.1,576.59 L558.1,576.72 L556.1,576.85 L554.1,576.98 L552.1,577.11 L550.1,577.24 L548.1,577.37 L546.1,577.5 L544.1,577.63 L542.1,577.76 L540.1,577.9 L538.1,578.04 L536.1,578.17 L534.1,578.31 L532.1,578.45 L530.1,578.59 L528.1,578.72 L526.1,578.93 L524.1,579.22 L522.1,579.51 L520.1,579.8 L518.1,580.09 L516.1,580.37 L514.1,580.66 L512.1,580.95 L510.1,581.24 L508.1,581.53 L506.1,581.82 L504.1,582.11 L502.1,582.4 L500.1,582.69 L498.1,582.96 L496.1,583.23 L494.1,583.51 L492.1,583.78 L490.1,584.05 L488.1,584.33 L486.1,584.6 L484.1,584.87 L482.1,585.15 L480.1,585.42 L478.1,585.69 L476.1,585.97 L474.1,586.24 L472.1,586.51 L470.1,586.79 L468.1,587.24 L466.1,587.7 L464.1,588.17 L462.1,588.63 L460.1,589.1 L458.1,589.56 L456.1,590.02 L454.1,590.49 L452.1,590.95 L450.1,591.42 L448.1,591.88 L446.1,592.34 L444.1,593.02 L442.1,593.96 L440.1,594.89 L438.1,595.83 L436.1,596.77 L434.1,597.7 L432.1,598.64 L430.1,599.57 L428.1,600.51 L426.1,601.45 L424.1,602.38 L422.1,603.32 L420.1,604.25 L418.1,605.64 L416.1,607.05 L414.1,608.46 L412.1,609.87 L410.1,611.28 L408.1,612.69 L406.1,614.1 Z" fill="rgba(20,174,179,0.38)" stroke="none"/>
<path d="M398.7,631.6 L406.1,613.89 L408.1,611.79 L410.1,609.87 L412.1,608.09 L414.1,606.44 L416.1,604.9 L418.1,603.46 L420.1,602.1 L422.1,600.82 L424.1,599.62 L426.1,598.47 L428.1,597.38 L430.1,596.34 L432.1,595.35 L434.1,594.41 L436.1,593.5 L438.1,592.63 L440.1,591.79 L442.1,590.99 L444.1,590.22 L446.1,589.47 L448.1,588.75 L450.1,588.06 L452.1,587.39 L454.1,586.73 L456.1,586.1 L458.1,585.49 L460.1,584.9 L462.1,584.32 L464.1,583.76 L466.1,583.22 L468.1,582.69 L470.1,582.17 L472.1,581.66 L474.1,581.17 L476.1,580.7 L478.1,580.23 L480.1,579.77 L482.1,579.33 L484.1,578.89 L486.1,578.46 L488.1,578.05 L490.1,577.64 L492.1,577.24 L494.1,576.85 L496.1,576.46 L498.1,576.09 L500.1,575.72 L502.1,575.36 L504.1,575 L506.1,574.66 L508.1,574.31 L510.1,573.98 L512.1,573.65 L514.1,573.33 L516.1,573.01 L518.1,572.69 L520.1,572.39 L522.1,572.08 L524.1,571.79 L526.1,571.49 L528.1,571.21 L530.1,570.92 L532.1,570.64 L534.1,570.37 L536.1,570.1" fill="none" stroke="#14AEB3" stroke-width="2.6" stroke-linecap="butt" stroke-linejoin="round"/>
<path d="M536.1,570.1 L538.11,569.83 L540.11,569.57 L542.12,569.31 L544.12,569.05 L546.13,568.8 L548.14,568.55 L550.14,568.3 L552.15,568.06 L554.15,567.82 L556.16,567.58 L558.17,567.35 L560.17,567.12 L562.18,566.89 L564.18,566.67 L566.19,566.45 L568.2,566.23 L570.2,566.02 L572.21,565.8 L574.21,565.59 L576.22,565.38 L578.23,565.18 L580.23,564.98 L582.24,564.77 L584.24,564.58 L586.25,564.38 L588.26,564.19 L590.26,563.99 L592.27,563.8 L594.27,563.62 L596.28,563.43 L598.29,563.25 L600.29,563.07 L602.3,562.89 L604.3,562.71 L606.31,562.53 L608.31,562.36 L610.32,562.18 L612.33,562.01 L614.33,561.84 L616.34,561.68 L618.34,561.51 L620.35,561.35 L622.36,561.18 L624.36,561.02 L626.37,560.86 L628.37,560.71 L630.38,560.55 L632.39,560.39 L634.39,560.24 L636.4,560.09 L638.4,559.94 L640.41,559.79 L642.42,559.64 L644.42,559.49 L646.43,559.35 L648.43,559.2 L650.44,559.06 L652.45,558.92 L654.45,558.78 L656.46,558.64 L658.46,558.5 L660.47,558.36 L662.48,558.23 L664.48,558.09 L666.49,557.96 L668.49,557.83 L670.5,557.69" fill="none" stroke="#14AEB3" stroke-width="2.6" stroke-dasharray="4.6 11.1" stroke-dashoffset="-1.3" stroke-linecap="round" stroke-linejoin="round"/>
<polygon points="536.1,564.1 540.6,569.6 536.1,575.1 531.6,569.6" fill="#14AEB3"/>
<line x1="440.05" y1="597.2" x2="458.95" y2="597.2" stroke="#111" stroke-width="1.5" stroke-dasharray="2.7 5.3" stroke-linecap="round"/>
<line x1="438.5" y1="609.6" x2="459.9" y2="609.6" stroke="#E8706A" stroke-width="2.4"/>
<polygon points="449.2,605.77 452.4,611.32 446,611.32" fill="#E8706A"/>
<line x1="438.5" y1="622.1" x2="459.9" y2="622.1" stroke="#14AEB3" stroke-width="2.4"/>
<polygon points="449.2,619.5 450.5,622.1 449.2,624.7 447.9,622.1" fill="#14AEB3"/>
<text x="468.3" y="600.9" font-size="10.55" text-anchor="start" font-weight="normal" fill="#000">Minimum species richness/ACE (All)</text>
<text x="468.3" y="613.3" font-size="10.55" text-anchor="start" font-weight="normal" fill="#000">Mammalia, Public, rarefaction + extrapolation</text>
<text x="468.3" y="625.8" font-size="10.55" text-anchor="start" font-weight="normal" fill="#000">Mammalia, All, rarefaction + extrapolation</text>
<path d="M398.7,631.1 L400.4,620.9 L402.1,611.8 L403.25,605 L404.4,603.3 L406.1,601.6 L407.8,600.5 L409.5,598.2 L411.2,593.6 L412.9,589.1 L414.6,585.7 L416.3,583.4 L418,582.8 L419.7,580.6 L422,578.3 L424.3,575.5 L426.5,572.6 L428.8,569.2 L430.5,566.9 L431.7,563 L432.8,566.4 L435.1,568.1 L437.3,569.2 L439.6,567.5 L441.9,565.8 L450,566.2 L458,565.4 L468,566.2 L480,564 L490,563 L500,562.4 L510,561 L520,560.2 L530,558.4 L535.6,557.7" fill="none" stroke="#111" stroke-width="1.4" stroke-dasharray="2.7 5.3" stroke-linecap="round" stroke-linejoin="round"/>
<line x1="399" y1="634.9" x2="399" y2="641.7" stroke="#222" stroke-width="1.1"/>
<text x="399" y="658.4" font-size="10.4" text-anchor="middle" font-weight="normal" fill="#000">0</text>
<line x1="484.15" y1="634.9" x2="484.15" y2="641.7" stroke="#222" stroke-width="1.1"/>
<text x="484.15" y="658.4" font-size="10.4" text-anchor="middle" font-weight="normal" fill="#000">500</text>
<line x1="569.3" y1="634.9" x2="569.3" y2="641.7" stroke="#222" stroke-width="1.1"/>
<text x="569.3" y="658.4" font-size="10.4" text-anchor="middle" font-weight="normal" fill="#000">1000</text>
<line x1="654.45" y1="634.9" x2="654.45" y2="641.7" stroke="#222" stroke-width="1.1"/>
<text x="654.45" y="658.4" font-size="10.4" text-anchor="middle" font-weight="normal" fill="#000">1500</text>
<line x1="381.2" y1="632.8" x2="388" y2="632.8" stroke="#222" stroke-width="1.1"/>
<text x="373.8" y="632.8" font-size="10.4" text-anchor="middle" font-weight="normal" fill="#000" transform="rotate(-90 373.8 632.8)">0</text>
<line x1="381.2" y1="620.41" x2="388" y2="620.41" stroke="#222" stroke-width="1.1"/>
<line x1="381.2" y1="608.02" x2="388" y2="608.02" stroke="#222" stroke-width="1.1"/>
<text x="373.8" y="608.02" font-size="10.4" text-anchor="middle" font-weight="normal" fill="#000" transform="rotate(-90 373.8 608.02)">20</text>
<line x1="381.2" y1="595.63" x2="388" y2="595.63" stroke="#222" stroke-width="1.1"/>
<line x1="381.2" y1="583.24" x2="388" y2="583.24" stroke="#222" stroke-width="1.1"/>
<text x="373.8" y="583.24" font-size="10.4" text-anchor="middle" font-weight="normal" fill="#000" transform="rotate(-90 373.8 583.24)">40</text>
<line x1="381.2" y1="570.85" x2="388" y2="570.85" stroke="#222" stroke-width="1.1"/>
<line x1="381.2" y1="558.46" x2="388" y2="558.46" stroke="#222" stroke-width="1.1"/>
<text x="373.8" y="558.46" font-size="10.4" text-anchor="middle" font-weight="normal" fill="#000" transform="rotate(-90 373.8 558.46)">60</text>
<line x1="381.2" y1="546.07" x2="388" y2="546.07" stroke="#222" stroke-width="1.1"/>
<rect x="388" y="539.4" width="296.4" height="95.5" fill="none" stroke="#222" stroke-width="1.4"/>
<text x="400.6" y="558.4" font-size="17.8" text-anchor="middle" font-weight="bold" fill="#000">j</text>
<text x="371.15" y="680" font-size="18.6" text-anchor="middle" font-weight="normal" fill="#000">Number of specimens</text>
<text x="15.9" y="336.6" font-size="18.43" text-anchor="middle" font-weight="normal" fill="#000" transform="rotate(-90 15.9 336.6)">Number of species / taxa</text>
</svg>
</body></html>
